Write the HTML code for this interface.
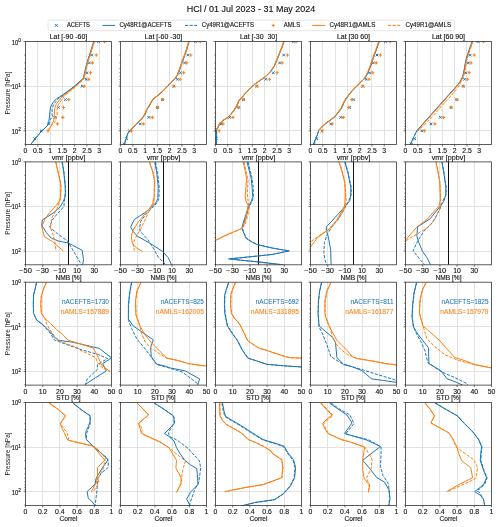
<!DOCTYPE html>
<html><head><meta charset="utf-8"><style>html,body{margin:0;padding:0;background:#fff;overflow:hidden}svg{display:block;will-change:transform}text{font-family:"Liberation Sans",sans-serif}</style></head><body>
<svg width="500" height="527" viewBox="0 0 500 527" font-family="Liberation Sans, sans-serif" fill="#111" stroke="#111" stroke-width="0.12"><defs><clipPath id="cp00"><rect x="25.5" y="41.6" width="86.0" height="102.9"/></clipPath><clipPath id="cp01"><rect x="120.5" y="41.6" width="86.0" height="102.9"/></clipPath><clipPath id="cp02"><rect x="215.5" y="41.6" width="86.0" height="102.9"/></clipPath><clipPath id="cp03"><rect x="310.5" y="41.6" width="86.0" height="102.9"/></clipPath><clipPath id="cp04"><rect x="405.5" y="41.6" width="86.0" height="102.9"/></clipPath><clipPath id="cp10"><rect x="25.5" y="161.9" width="86.0" height="102.9"/></clipPath><clipPath id="cp11"><rect x="120.5" y="161.9" width="86.0" height="102.9"/></clipPath><clipPath id="cp12"><rect x="215.5" y="161.9" width="86.0" height="102.9"/></clipPath><clipPath id="cp13"><rect x="310.5" y="161.9" width="86.0" height="102.9"/></clipPath><clipPath id="cp14"><rect x="405.5" y="161.9" width="86.0" height="102.9"/></clipPath><clipPath id="cp20"><rect x="25.5" y="282.2" width="86.0" height="102.9"/></clipPath><clipPath id="cp21"><rect x="120.5" y="282.2" width="86.0" height="102.9"/></clipPath><clipPath id="cp22"><rect x="215.5" y="282.2" width="86.0" height="102.9"/></clipPath><clipPath id="cp23"><rect x="310.5" y="282.2" width="86.0" height="102.9"/></clipPath><clipPath id="cp24"><rect x="405.5" y="282.2" width="86.0" height="102.9"/></clipPath><clipPath id="cp30"><rect x="25.5" y="402.5" width="86.0" height="102.9"/></clipPath><clipPath id="cp31"><rect x="120.5" y="402.5" width="86.0" height="102.9"/></clipPath><clipPath id="cp32"><rect x="215.5" y="402.5" width="86.0" height="102.9"/></clipPath><clipPath id="cp33"><rect x="310.5" y="402.5" width="86.0" height="102.9"/></clipPath><clipPath id="cp34"><rect x="405.5" y="402.5" width="86.0" height="102.9"/></clipPath></defs><rect x="0" y="0" width="500" height="527" fill="#fff" stroke="none"/>
<text x="251.00" y="12.00" font-size="8.59" text-anchor="middle" textLength="128.61" lengthAdjust="spacingAndGlyphs">HCl / 01 Jul 2023 - 31 May 2024</text>
<rect x="48.1" y="20.2" width="406.6" height="10.5" rx="1.6" fill="#fff" stroke="#e2e2e2" stroke-width="0.9"/>
<path d="M54.95 24.05L57.65 26.75M54.95 26.75L57.65 24.05" stroke="#1f77b4" stroke-width="0.95" fill="none"/>
<line x1="102.4" y1="25.4" x2="115" y2="25.4" stroke="#1f77b4" stroke-width="1"/>
<line x1="185" y1="25.4" x2="197" y2="25.4" stroke="#1f77b4" stroke-width="1" stroke-dasharray="3.2 1.4"/>
<path d="M271.70 25.40L274.70 25.40M273.20 23.90L273.20 26.90" stroke="#ff7f0e" stroke-width="1.0" fill="none"/>
<line x1="312.2" y1="25.4" x2="325.2" y2="25.4" stroke="#ff7f0e" stroke-width="1"/>
<line x1="388" y1="25.4" x2="401" y2="25.4" stroke="#ff7f0e" stroke-width="1" stroke-dasharray="3.2 1.4"/>
<text x="67.00" y="26.90" font-size="6.36" textLength="22.80" lengthAdjust="spacingAndGlyphs">ACEFTS</text>
<text x="119.40" y="26.90" font-size="6.36" textLength="52.16" lengthAdjust="spacingAndGlyphs">Cy48R1@ACEFTS</text>
<text x="201.80" y="26.90" font-size="6.36" textLength="52.16" lengthAdjust="spacingAndGlyphs">Cy49R1@ACEFTS</text>
<text x="283.80" y="26.90" font-size="6.36" textLength="16.43" lengthAdjust="spacingAndGlyphs">AMLS</text>
<text x="329.50" y="26.90" font-size="6.36" textLength="45.79" lengthAdjust="spacingAndGlyphs">Cy48R1@AMLS</text>
<text x="405.40" y="26.90" font-size="6.36" textLength="45.79" lengthAdjust="spacingAndGlyphs">Cy49R1@AMLS</text>
<line x1="37.50" y1="41.6" x2="37.50" y2="144.5" stroke="#e2e2e2" stroke-width="1"/><line x1="50.50" y1="41.6" x2="50.50" y2="144.5" stroke="#e2e2e2" stroke-width="1"/><line x1="62.50" y1="41.6" x2="62.50" y2="144.5" stroke="#e2e2e2" stroke-width="1"/><line x1="74.50" y1="41.6" x2="74.50" y2="144.5" stroke="#e2e2e2" stroke-width="1"/><line x1="86.50" y1="41.6" x2="86.50" y2="144.5" stroke="#e2e2e2" stroke-width="1"/><line x1="99.50" y1="41.6" x2="99.50" y2="144.5" stroke="#e2e2e2" stroke-width="1"/><line x1="25.5" y1="86.50" x2="111.5" y2="86.50" stroke="#e2e2e2" stroke-width="1"/><line x1="25.5" y1="130.50" x2="111.5" y2="130.50" stroke="#e2e2e2" stroke-width="1"/>
<g clip-path="url(#cp00)">
<path d="M97.20 40.30L99.80 42.90M97.20 42.90L99.80 40.30" stroke="#1f77b4" stroke-width="1.0" fill="none"/><path d="M90.40 53.73L93.00 56.33M90.40 56.33L93.00 53.73" stroke="#1f77b4" stroke-width="1.0" fill="none"/><path d="M88.10 61.58L90.70 64.18M88.10 64.18L90.70 61.58" stroke="#1f77b4" stroke-width="1.0" fill="none"/><path d="M85.70 71.47L88.30 74.07M85.70 74.07L88.30 71.47" stroke="#1f77b4" stroke-width="1.0" fill="none"/><path d="M84.90 77.99L87.50 80.59M84.90 80.59L87.50 77.99" stroke="#1f77b4" stroke-width="1.0" fill="none"/><path d="M80.90 84.90L83.50 87.50M80.90 87.50L83.50 84.90" stroke="#1f77b4" stroke-width="1.0" fill="none"/><path d="M64.10 98.33L66.70 100.93M64.10 100.93L66.70 98.33" stroke="#1f77b4" stroke-width="1.0" fill="none"/><path d="M57.30 106.18L59.90 108.78M57.30 108.78L59.90 106.18" stroke="#1f77b4" stroke-width="1.0" fill="none"/><path d="M53.50 116.07L56.10 118.67M53.50 118.67L56.10 116.07" stroke="#1f77b4" stroke-width="1.0" fill="none"/><path d="M47.30 122.59L49.90 125.19M47.30 125.19L49.90 122.59" stroke="#1f77b4" stroke-width="1.0" fill="none"/><path d="M39.90 129.50L42.50 132.10M39.90 132.10L42.50 129.50" stroke="#1f77b4" stroke-width="1.0" fill="none"/><path d="M33.40 137.35L36.00 139.95M33.40 139.95L36.00 137.35" stroke="#1f77b4" stroke-width="1.0" fill="none"/>
<path d="M93.80 41.50 L89.30 55.50 L86.60 64.00 L84.20 74.30 L83.30 78.30 L79.00 82.10 L75.00 85.60 L71.00 88.80 L67.00 91.80 L63.00 94.60 L59.50 97.00 L56.70 98.60 L52.90 102.60 L50.60 107.10 L49.90 111.70 L49.50 117.00 L48.70 121.60 L47.60 125.40 L43.80 129.20 L40.00 133.00 L31.80 143.10 L30.80 144.50" stroke="#1f77b4" stroke-width="1.0" fill="none" stroke-linejoin="round"/>
<path d="M94.00 41.50 L89.50 55.50 L86.80 64.00 L84.40 74.30 L83.50 78.40 L79.20 82.30 L75.20 85.90 L71.20 89.10 L67.20 92.10 L63.20 95.00 L60.00 97.50 L58.20 98.80 L54.40 103.40 L52.10 107.90 L52.10 114.70 L52.50 116.50 L50.00 120.00 L48.70 123.90 L47.60 125.40 L43.80 129.20 L40.00 133.00 L31.80 143.10 L30.80 144.50" stroke="#1f77b4" stroke-width="1.0" fill="none" stroke-linejoin="round" stroke-dasharray="3.2 1.4"/>
<path d="M103.05 41.60L106.35 41.60M104.70 39.95L104.70 43.25" stroke="#ff7f0e" stroke-width="1.05" fill="none"/><path d="M94.65 55.03L97.95 55.03M96.30 53.38L96.30 56.68" stroke="#ff7f0e" stroke-width="1.05" fill="none"/><path d="M90.75 62.88L94.05 62.88M92.40 61.23L92.40 64.53" stroke="#ff7f0e" stroke-width="1.05" fill="none"/><path d="M88.85 72.77L92.15 72.77M90.50 71.12L90.50 74.42" stroke="#ff7f0e" stroke-width="1.05" fill="none"/><path d="M87.15 79.29L90.45 79.29M88.80 77.64L88.80 80.94" stroke="#ff7f0e" stroke-width="1.05" fill="none"/><path d="M82.55 86.20L85.85 86.20M84.20 84.55L84.20 87.85" stroke="#ff7f0e" stroke-width="1.05" fill="none"/><path d="M67.05 99.63L70.35 99.63M68.70 97.98L68.70 101.28" stroke="#ff7f0e" stroke-width="1.05" fill="none"/><path d="M61.85 107.48L65.15 107.48M63.50 105.83L63.50 109.13" stroke="#ff7f0e" stroke-width="1.05" fill="none"/><path d="M61.15 117.37L64.45 117.37M62.80 115.72L62.80 119.02" stroke="#ff7f0e" stroke-width="1.05" fill="none"/><path d="M55.85 123.89L59.15 123.89M57.50 122.24L57.50 125.54" stroke="#ff7f0e" stroke-width="1.05" fill="none"/><path d="M46.35 130.80L49.65 130.80M48.00 129.15L48.00 132.45" stroke="#ff7f0e" stroke-width="1.05" fill="none"/>
<path d="M94.30 41.50 L89.80 55.50 L87.10 64.00 L84.70 74.30 L83.80 78.60 L79.50 82.60 L75.50 86.20 L71.50 89.50 L67.50 92.60 L63.70 95.50 L61.50 97.30 L59.70 99.60 L56.30 104.10 L54.80 107.90 L54.40 114.00 L54.00 120.00 L51.40 125.40 L48.00 130.50" stroke="#ff7f0e" stroke-width="1.0" fill="none" stroke-linejoin="round"/>
<path d="M94.50 41.50 L90.00 55.50 L87.30 64.00 L84.90 74.30 L84.00 78.80 L79.80 82.90 L75.80 86.50 L71.80 89.90 L67.80 93.00 L64.50 95.60 L61.30 100.30 L58.20 104.90 L57.10 110.20 L57.10 114.70 L56.30 118.50 L54.80 122.30 L51.40 125.40 L48.00 130.50" stroke="#ff7f0e" stroke-width="1.0" fill="none" stroke-linejoin="round" stroke-dasharray="3.2 1.4"/>
</g>
<rect x="25.5" y="41.6" width="86.0" height="102.9" fill="none" stroke="#333" stroke-width="0.8"/>
<text x="25.50" y="153.10" font-size="6.36" text-anchor="middle" textLength="3.82" lengthAdjust="spacingAndGlyphs">0</text>
<text x="37.79" y="153.10" font-size="6.36" text-anchor="middle" textLength="9.54" lengthAdjust="spacingAndGlyphs">0.5</text>
<text x="50.07" y="153.10" font-size="6.36" text-anchor="middle" textLength="3.82" lengthAdjust="spacingAndGlyphs">1</text>
<text x="62.36" y="153.10" font-size="6.36" text-anchor="middle" textLength="9.54" lengthAdjust="spacingAndGlyphs">1.5</text>
<text x="74.64" y="153.10" font-size="6.36" text-anchor="middle" textLength="3.82" lengthAdjust="spacingAndGlyphs">2</text>
<text x="86.93" y="153.10" font-size="6.36" text-anchor="middle" textLength="9.54" lengthAdjust="spacingAndGlyphs">2.5</text>
<text x="99.21" y="153.10" font-size="6.36" text-anchor="middle" textLength="3.82" lengthAdjust="spacingAndGlyphs">3</text>
<path d="M25.50 144.5v2M37.79 144.5v2M50.07 144.5v2M62.36 144.5v2M74.64 144.5v2M86.93 144.5v2M99.21 144.5v2M25.5 41.60h-2M25.5 55.03h-1.1M25.5 62.88h-1.1M25.5 68.45h-1.1M25.5 72.77h-1.1M25.5 76.31h-1.1M25.5 79.29h-1.1M25.5 81.88h-1.1M25.5 84.16h-1.1M25.5 86.20h-2M25.5 99.63h-1.1M25.5 107.48h-1.1M25.5 113.05h-1.1M25.5 117.37h-1.1M25.5 120.91h-1.1M25.5 123.89h-1.1M25.5 126.48h-1.1M25.5 128.76h-1.1M25.5 130.80h-2M25.5 144.23h-1.1" stroke="#333" stroke-width="0.7" fill="none"/>
<text x="68.50" y="159.60" font-size="6.36" text-anchor="middle" textLength="33.43" lengthAdjust="spacingAndGlyphs">vmr [ppbv]</text>
<text x="68.50" y="39.00" font-size="6.36" text-anchor="middle" textLength="37.47" lengthAdjust="spacingAndGlyphs" xml:space="preserve">Lat [-90 -60]</text>
<text x="18.2" y="44.50" font-size="6.3" text-anchor="end" textLength="6.5" lengthAdjust="spacingAndGlyphs">10</text><text x="18.20" y="42.10" font-size="4.45" textLength="2.67" lengthAdjust="spacingAndGlyphs">0</text>
<text x="18.2" y="89.10" font-size="6.3" text-anchor="end" textLength="6.5" lengthAdjust="spacingAndGlyphs">10</text><text x="18.20" y="86.70" font-size="4.45" textLength="2.67" lengthAdjust="spacingAndGlyphs">1</text>
<text x="18.2" y="133.70" font-size="6.3" text-anchor="end" textLength="6.5" lengthAdjust="spacingAndGlyphs">10</text><text x="18.20" y="131.30" font-size="4.45" textLength="2.67" lengthAdjust="spacingAndGlyphs">2</text>
<text x="0.00" y="0.00" font-size="6.36" text-anchor="middle" textLength="43.04" lengthAdjust="spacingAndGlyphs" stroke="none" transform="translate(10.2 93.05) rotate(-90)">Pressure [hPa]</text>
<line x1="132.50" y1="41.6" x2="132.50" y2="144.5" stroke="#e2e2e2" stroke-width="1"/><line x1="145.50" y1="41.6" x2="145.50" y2="144.5" stroke="#e2e2e2" stroke-width="1"/><line x1="157.50" y1="41.6" x2="157.50" y2="144.5" stroke="#e2e2e2" stroke-width="1"/><line x1="169.50" y1="41.6" x2="169.50" y2="144.5" stroke="#e2e2e2" stroke-width="1"/><line x1="181.50" y1="41.6" x2="181.50" y2="144.5" stroke="#e2e2e2" stroke-width="1"/><line x1="194.50" y1="41.6" x2="194.50" y2="144.5" stroke="#e2e2e2" stroke-width="1"/><line x1="120.5" y1="86.50" x2="206.5" y2="86.50" stroke="#e2e2e2" stroke-width="1"/><line x1="120.5" y1="130.50" x2="206.5" y2="130.50" stroke="#e2e2e2" stroke-width="1"/>
<g clip-path="url(#cp01)">
<path d="M194.20 40.30L196.80 42.90M194.20 42.90L196.80 40.30" stroke="#1f77b4" stroke-width="1.0" fill="none"/><path d="M186.50 53.73L189.10 56.33M186.50 56.33L189.10 53.73" stroke="#1f77b4" stroke-width="1.0" fill="none"/><path d="M183.20 61.58L185.80 64.18M183.20 64.18L185.80 61.58" stroke="#1f77b4" stroke-width="1.0" fill="none"/><path d="M179.20 71.47L181.80 74.07M179.20 74.07L181.80 71.47" stroke="#1f77b4" stroke-width="1.0" fill="none"/><path d="M176.10 77.99L178.70 80.59M176.10 80.59L178.70 77.99" stroke="#1f77b4" stroke-width="1.0" fill="none"/><path d="M172.50 84.90L175.10 87.50M172.50 87.50L175.10 84.90" stroke="#1f77b4" stroke-width="1.0" fill="none"/><path d="M161.30 98.33L163.90 100.93M161.30 100.93L163.90 98.33" stroke="#1f77b4" stroke-width="1.0" fill="none"/><path d="M156.30 106.18L158.90 108.78M156.30 108.78L158.90 106.18" stroke="#1f77b4" stroke-width="1.0" fill="none"/><path d="M147.60 116.07L150.20 118.67M147.60 118.67L150.20 116.07" stroke="#1f77b4" stroke-width="1.0" fill="none"/><path d="M138.90 122.59L141.50 125.19M138.90 125.19L141.50 122.59" stroke="#1f77b4" stroke-width="1.0" fill="none"/><path d="M128.20 129.50L130.80 132.10M128.20 132.10L130.80 129.50" stroke="#1f77b4" stroke-width="1.0" fill="none"/><path d="M125.30 137.35L127.90 139.95M125.30 139.95L127.90 137.35" stroke="#1f77b4" stroke-width="1.0" fill="none"/><path d="M122.80 142.93L125.40 145.53M122.80 145.53L125.40 142.93" stroke="#1f77b4" stroke-width="1.0" fill="none"/>
<path d="M189.10 41.50 L186.70 49.90 L184.20 56.80 L181.70 63.70 L179.70 69.60 L177.80 74.60 L175.30 78.50 L171.40 82.40 L167.80 86.20 L163.00 91.20 L157.60 95.80 L153.30 99.20 L149.90 104.80 L147.10 109.50 L144.80 114.90 L142.10 118.50 L138.50 122.10 L134.00 126.60 L130.00 130.70 L127.70 133.80 L126.40 138.30 L124.60 143.70 L124.30 145.00" stroke="#1f77b4" stroke-width="1.0" fill="none" stroke-linejoin="round"/>
<path d="M188.90 41.50 L186.50 49.90 L184.00 56.80 L181.50 63.70 L179.50 69.60 L177.60 74.60 L175.10 78.50 L171.20 82.40 L167.60 86.20 L162.80 91.20 L157.40 95.80 L153.10 99.20 L149.70 104.80 L146.90 109.50 L144.60 114.90 L141.90 118.50 L138.30 122.10 L133.80 126.60 L129.80 130.70 L127.50 133.80 L126.20 138.30 L124.40 143.70 L124.10 145.00" stroke="#1f77b4" stroke-width="1.0" fill="none" stroke-linejoin="round" stroke-dasharray="3.2 1.4"/>
<path d="M198.55 41.60L201.85 41.60M200.20 39.95L200.20 43.25" stroke="#ff7f0e" stroke-width="1.05" fill="none"/><path d="M189.15 55.03L192.45 55.03M190.80 53.38L190.80 56.68" stroke="#ff7f0e" stroke-width="1.05" fill="none"/><path d="M185.05 62.88L188.35 62.88M186.70 61.23L186.70 64.53" stroke="#ff7f0e" stroke-width="1.05" fill="none"/><path d="M182.05 72.77L185.35 72.77M183.70 71.12L183.70 74.42" stroke="#ff7f0e" stroke-width="1.05" fill="none"/><path d="M178.45 79.29L181.75 79.29M180.10 77.64L180.10 80.94" stroke="#ff7f0e" stroke-width="1.05" fill="none"/><path d="M172.15 86.20L175.45 86.20M173.80 84.55L173.80 87.85" stroke="#ff7f0e" stroke-width="1.05" fill="none"/><path d="M160.95 99.63L164.25 99.63M162.60 97.98L162.60 101.28" stroke="#ff7f0e" stroke-width="1.05" fill="none"/><path d="M155.85 107.48L159.15 107.48M157.50 105.83L157.50 109.13" stroke="#ff7f0e" stroke-width="1.05" fill="none"/><path d="M150.75 117.37L154.05 117.37M152.40 115.72L152.40 119.02" stroke="#ff7f0e" stroke-width="1.05" fill="none"/><path d="M141.65 123.89L144.95 123.89M143.30 122.24L143.30 125.54" stroke="#ff7f0e" stroke-width="1.05" fill="none"/><path d="M129.85 130.80L133.15 130.80M131.50 129.15L131.50 132.45" stroke="#ff7f0e" stroke-width="1.05" fill="none"/>
<path d="M188.60 41.50 L186.20 49.90 L183.70 56.80 L181.20 63.70 L179.20 69.60 L177.30 74.60 L174.80 78.50 L170.90 82.40 L167.30 86.20 L162.50 91.20 L157.10 95.80 L152.80 99.20 L149.40 104.80 L146.60 109.50 L144.30 114.90 L141.60 118.50 L138.00 122.10 L133.50 126.60 L129.50 130.70" stroke="#ff7f0e" stroke-width="1.0" fill="none" stroke-linejoin="round"/>
<path d="M188.90 41.50 L186.50 49.90 L184.00 56.80 L181.50 63.70 L179.50 69.60 L177.60 74.60 L175.10 78.50 L171.20 82.40 L167.60 86.20 L162.80 91.20 L157.40 95.80 L153.10 99.20 L149.70 104.80 L146.90 109.50 L144.60 114.90 L141.90 118.50 L138.30 122.10 L133.80 126.60 L129.80 130.70" stroke="#ff7f0e" stroke-width="1.0" fill="none" stroke-linejoin="round" stroke-dasharray="3.2 1.4"/>
</g>
<rect x="120.5" y="41.6" width="86.0" height="102.9" fill="none" stroke="#333" stroke-width="0.8"/>
<text x="120.50" y="153.10" font-size="6.36" text-anchor="middle" textLength="3.82" lengthAdjust="spacingAndGlyphs">0</text>
<text x="132.79" y="153.10" font-size="6.36" text-anchor="middle" textLength="9.54" lengthAdjust="spacingAndGlyphs">0.5</text>
<text x="145.07" y="153.10" font-size="6.36" text-anchor="middle" textLength="3.82" lengthAdjust="spacingAndGlyphs">1</text>
<text x="157.36" y="153.10" font-size="6.36" text-anchor="middle" textLength="9.54" lengthAdjust="spacingAndGlyphs">1.5</text>
<text x="169.64" y="153.10" font-size="6.36" text-anchor="middle" textLength="3.82" lengthAdjust="spacingAndGlyphs">2</text>
<text x="181.93" y="153.10" font-size="6.36" text-anchor="middle" textLength="9.54" lengthAdjust="spacingAndGlyphs">2.5</text>
<text x="194.21" y="153.10" font-size="6.36" text-anchor="middle" textLength="3.82" lengthAdjust="spacingAndGlyphs">3</text>
<path d="M120.50 144.5v2M132.79 144.5v2M145.07 144.5v2M157.36 144.5v2M169.64 144.5v2M181.93 144.5v2M194.21 144.5v2M120.5 41.60h-2M120.5 55.03h-1.1M120.5 62.88h-1.1M120.5 68.45h-1.1M120.5 72.77h-1.1M120.5 76.31h-1.1M120.5 79.29h-1.1M120.5 81.88h-1.1M120.5 84.16h-1.1M120.5 86.20h-2M120.5 99.63h-1.1M120.5 107.48h-1.1M120.5 113.05h-1.1M120.5 117.37h-1.1M120.5 120.91h-1.1M120.5 123.89h-1.1M120.5 126.48h-1.1M120.5 128.76h-1.1M120.5 130.80h-2M120.5 144.23h-1.1" stroke="#333" stroke-width="0.7" fill="none"/>
<text x="163.50" y="159.60" font-size="6.36" text-anchor="middle" textLength="33.43" lengthAdjust="spacingAndGlyphs">vmr [ppbv]</text>
<text x="163.50" y="39.00" font-size="6.36" text-anchor="middle" textLength="37.47" lengthAdjust="spacingAndGlyphs" xml:space="preserve">Lat [-60 -30]</text>
<line x1="227.50" y1="41.6" x2="227.50" y2="144.5" stroke="#e2e2e2" stroke-width="1"/><line x1="240.50" y1="41.6" x2="240.50" y2="144.5" stroke="#e2e2e2" stroke-width="1"/><line x1="252.50" y1="41.6" x2="252.50" y2="144.5" stroke="#e2e2e2" stroke-width="1"/><line x1="264.50" y1="41.6" x2="264.50" y2="144.5" stroke="#e2e2e2" stroke-width="1"/><line x1="276.50" y1="41.6" x2="276.50" y2="144.5" stroke="#e2e2e2" stroke-width="1"/><line x1="289.50" y1="41.6" x2="289.50" y2="144.5" stroke="#e2e2e2" stroke-width="1"/><line x1="215.5" y1="86.50" x2="301.5" y2="86.50" stroke="#e2e2e2" stroke-width="1"/><line x1="215.5" y1="130.50" x2="301.5" y2="130.50" stroke="#e2e2e2" stroke-width="1"/>
<g clip-path="url(#cp02)">
<path d="M291.90 40.30L294.50 42.90M291.90 42.90L294.50 40.30" stroke="#1f77b4" stroke-width="1.0" fill="none"/><path d="M282.40 53.73L285.00 56.33M282.40 56.33L285.00 53.73" stroke="#1f77b4" stroke-width="1.0" fill="none"/><path d="M278.30 61.58L280.90 64.18M278.30 64.18L280.90 61.58" stroke="#1f77b4" stroke-width="1.0" fill="none"/><path d="M272.00 71.47L274.60 74.07M272.00 74.07L274.60 71.47" stroke="#1f77b4" stroke-width="1.0" fill="none"/><path d="M264.50 77.99L267.10 80.59M264.50 80.59L267.10 77.99" stroke="#1f77b4" stroke-width="1.0" fill="none"/><path d="M255.40 84.90L258.00 87.50M255.40 87.50L258.00 84.90" stroke="#1f77b4" stroke-width="1.0" fill="none"/><path d="M242.10 98.33L244.70 100.93M242.10 100.93L244.70 98.33" stroke="#1f77b4" stroke-width="1.0" fill="none"/><path d="M237.50 106.18L240.10 108.78M237.50 108.78L240.10 106.18" stroke="#1f77b4" stroke-width="1.0" fill="none"/><path d="M228.30 116.07L230.90 118.67M228.30 118.67L230.90 116.07" stroke="#1f77b4" stroke-width="1.0" fill="none"/><path d="M219.80 122.59L222.40 125.19M219.80 125.19L222.40 122.59" stroke="#1f77b4" stroke-width="1.0" fill="none"/><path d="M214.70 129.50L217.30 132.10M214.70 132.10L217.30 129.50" stroke="#1f77b4" stroke-width="1.0" fill="none"/><path d="M215.00 137.35L217.60 139.95M215.00 139.95L217.60 137.35" stroke="#1f77b4" stroke-width="1.0" fill="none"/>
<path d="M284.10 41.50 L281.80 48.00 L279.50 53.70 L277.30 59.30 L274.40 66.20 L270.40 71.90 L265.90 76.40 L260.20 80.40 L254.50 84.40 L250.00 88.90 L245.40 93.50 L241.80 97.80 L239.00 100.70 L237.10 105.40 L234.30 110.20 L230.50 114.90 L227.60 117.70 L222.90 120.60 L220.00 123.40 L218.10 127.20 L216.20 130.50 L216.60 133.00 L216.70 138.00 L216.40 145.00" stroke="#1f77b4" stroke-width="1.0" fill="none" stroke-linejoin="round"/>
<path d="M283.90 41.50 L281.60 48.00 L279.30 53.70 L277.10 59.30 L274.20 66.20 L270.20 71.90 L265.70 76.40 L260.00 80.40 L254.30 84.40 L249.80 88.90 L245.20 93.50 L241.60 97.80 L238.80 100.70 L236.90 105.40 L234.10 110.20 L230.30 114.90 L227.40 117.70 L222.70 120.60 L219.80 123.40 L217.90 127.20 L216.00 130.50 L216.40 133.00 L216.50 138.00 L216.20 145.00" stroke="#1f77b4" stroke-width="1.0" fill="none" stroke-linejoin="round" stroke-dasharray="3.2 1.4"/>
<path d="M294.35 41.60L297.65 41.60M296.00 39.95L296.00 43.25" stroke="#ff7f0e" stroke-width="1.05" fill="none"/><path d="M285.75 55.03L289.05 55.03M287.40 53.38L287.40 56.68" stroke="#ff7f0e" stroke-width="1.05" fill="none"/><path d="M280.35 62.88L283.65 62.88M282.00 61.23L282.00 64.53" stroke="#ff7f0e" stroke-width="1.05" fill="none"/><path d="M275.45 72.77L278.75 72.77M277.10 71.12L277.10 74.42" stroke="#ff7f0e" stroke-width="1.05" fill="none"/><path d="M267.85 79.29L271.15 79.29M269.50 77.64L269.50 80.94" stroke="#ff7f0e" stroke-width="1.05" fill="none"/><path d="M255.25 86.20L258.55 86.20M256.90 84.55L256.90 87.85" stroke="#ff7f0e" stroke-width="1.05" fill="none"/><path d="M241.95 99.63L245.25 99.63M243.60 97.98L243.60 101.28" stroke="#ff7f0e" stroke-width="1.05" fill="none"/><path d="M236.65 107.48L239.95 107.48M238.30 105.83L238.30 109.13" stroke="#ff7f0e" stroke-width="1.05" fill="none"/><path d="M231.25 117.37L234.55 117.37M232.90 115.72L232.90 119.02" stroke="#ff7f0e" stroke-width="1.05" fill="none"/><path d="M221.35 123.89L224.65 123.89M223.00 122.24L223.00 125.54" stroke="#ff7f0e" stroke-width="1.05" fill="none"/><path d="M217.55 130.80L220.85 130.80M219.20 129.15L219.20 132.45" stroke="#ff7f0e" stroke-width="1.05" fill="none"/>
<path d="M283.70 41.50 L281.40 48.00 L279.10 53.70 L276.90 59.30 L274.00 66.20 L270.00 71.90 L265.50 76.40 L259.80 80.40 L254.10 84.40 L249.60 88.90 L245.00 93.50 L241.40 97.80 L238.60 100.70 L236.70 105.40 L233.90 110.20 L230.10 114.90 L227.20 117.70 L222.50 120.60 L219.60 123.40 L217.70 127.20 L215.80 130.50" stroke="#ff7f0e" stroke-width="1.0" fill="none" stroke-linejoin="round"/>
<path d="M283.90 41.50 L281.60 48.00 L279.30 53.70 L277.10 59.30 L274.20 66.20 L270.20 71.90 L265.70 76.40 L260.00 80.40 L254.30 84.40 L249.80 88.90 L245.20 93.50 L241.60 97.80 L238.80 100.70 L236.90 105.40 L234.10 110.20 L230.30 114.90 L227.40 117.70 L222.70 120.60 L219.80 123.40 L217.90 127.20 L216.00 130.50" stroke="#ff7f0e" stroke-width="1.0" fill="none" stroke-linejoin="round" stroke-dasharray="3.2 1.4"/>
</g>
<rect x="215.5" y="41.6" width="86.0" height="102.9" fill="none" stroke="#333" stroke-width="0.8"/>
<text x="215.50" y="153.10" font-size="6.36" text-anchor="middle" textLength="3.82" lengthAdjust="spacingAndGlyphs">0</text>
<text x="227.79" y="153.10" font-size="6.36" text-anchor="middle" textLength="9.54" lengthAdjust="spacingAndGlyphs">0.5</text>
<text x="240.07" y="153.10" font-size="6.36" text-anchor="middle" textLength="3.82" lengthAdjust="spacingAndGlyphs">1</text>
<text x="252.36" y="153.10" font-size="6.36" text-anchor="middle" textLength="9.54" lengthAdjust="spacingAndGlyphs">1.5</text>
<text x="264.64" y="153.10" font-size="6.36" text-anchor="middle" textLength="3.82" lengthAdjust="spacingAndGlyphs">2</text>
<text x="276.93" y="153.10" font-size="6.36" text-anchor="middle" textLength="9.54" lengthAdjust="spacingAndGlyphs">2.5</text>
<text x="289.21" y="153.10" font-size="6.36" text-anchor="middle" textLength="3.82" lengthAdjust="spacingAndGlyphs">3</text>
<path d="M215.50 144.5v2M227.79 144.5v2M240.07 144.5v2M252.36 144.5v2M264.64 144.5v2M276.93 144.5v2M289.21 144.5v2M215.5 41.60h-2M215.5 55.03h-1.1M215.5 62.88h-1.1M215.5 68.45h-1.1M215.5 72.77h-1.1M215.5 76.31h-1.1M215.5 79.29h-1.1M215.5 81.88h-1.1M215.5 84.16h-1.1M215.5 86.20h-2M215.5 99.63h-1.1M215.5 107.48h-1.1M215.5 113.05h-1.1M215.5 117.37h-1.1M215.5 120.91h-1.1M215.5 123.89h-1.1M215.5 126.48h-1.1M215.5 128.76h-1.1M215.5 130.80h-2M215.5 144.23h-1.1" stroke="#333" stroke-width="0.7" fill="none"/>
<text x="258.50" y="159.60" font-size="6.36" text-anchor="middle" textLength="33.43" lengthAdjust="spacingAndGlyphs">vmr [ppbv]</text>
<text x="258.50" y="39.00" font-size="6.36" text-anchor="middle" textLength="37.21" lengthAdjust="spacingAndGlyphs" xml:space="preserve">Lat [-30  30]</text>
<line x1="322.50" y1="41.6" x2="322.50" y2="144.5" stroke="#e2e2e2" stroke-width="1"/><line x1="335.50" y1="41.6" x2="335.50" y2="144.5" stroke="#e2e2e2" stroke-width="1"/><line x1="347.50" y1="41.6" x2="347.50" y2="144.5" stroke="#e2e2e2" stroke-width="1"/><line x1="359.50" y1="41.6" x2="359.50" y2="144.5" stroke="#e2e2e2" stroke-width="1"/><line x1="371.50" y1="41.6" x2="371.50" y2="144.5" stroke="#e2e2e2" stroke-width="1"/><line x1="384.50" y1="41.6" x2="384.50" y2="144.5" stroke="#e2e2e2" stroke-width="1"/><line x1="310.5" y1="86.50" x2="396.5" y2="86.50" stroke="#e2e2e2" stroke-width="1"/><line x1="310.5" y1="130.50" x2="396.5" y2="130.50" stroke="#e2e2e2" stroke-width="1"/>
<g clip-path="url(#cp03)">
<path d="M384.20 40.30L386.80 42.90M384.20 42.90L386.80 40.30" stroke="#1f77b4" stroke-width="1.0" fill="none"/><path d="M375.70 53.73L378.30 56.33M375.70 56.33L378.30 53.73" stroke="#1f77b4" stroke-width="1.0" fill="none"/><path d="M372.00 61.58L374.60 64.18M372.00 64.18L374.60 61.58" stroke="#1f77b4" stroke-width="1.0" fill="none"/><path d="M368.50 71.47L371.10 74.07M368.50 74.07L371.10 71.47" stroke="#1f77b4" stroke-width="1.0" fill="none"/><path d="M364.90 77.99L367.50 80.59M364.90 80.59L367.50 77.99" stroke="#1f77b4" stroke-width="1.0" fill="none"/><path d="M361.50 84.90L364.10 87.50M361.50 87.50L364.10 84.90" stroke="#1f77b4" stroke-width="1.0" fill="none"/><path d="M352.50 98.33L355.10 100.93M352.50 100.93L355.10 98.33" stroke="#1f77b4" stroke-width="1.0" fill="none"/><path d="M348.40 106.18L351.00 108.78M348.40 108.78L351.00 106.18" stroke="#1f77b4" stroke-width="1.0" fill="none"/><path d="M339.50 116.07L342.10 118.67M339.50 118.67L342.10 116.07" stroke="#1f77b4" stroke-width="1.0" fill="none"/><path d="M329.60 122.59L332.20 125.19M329.60 125.19L332.20 122.59" stroke="#1f77b4" stroke-width="1.0" fill="none"/><path d="M320.70 129.50L323.30 132.10M320.70 132.10L323.30 129.50" stroke="#1f77b4" stroke-width="1.0" fill="none"/><path d="M315.50 137.35L318.10 139.95M315.50 139.95L318.10 137.35" stroke="#1f77b4" stroke-width="1.0" fill="none"/><path d="M312.90 142.93L315.50 145.53M312.90 145.53L315.50 142.93" stroke="#1f77b4" stroke-width="1.0" fill="none"/>
<path d="M379.30 41.50 L377.00 48.00 L374.70 54.20 L372.50 60.50 L370.20 67.30 L367.90 73.00 L365.10 78.10 L361.10 82.10 L356.50 86.60 L352.00 91.20 L348.60 95.50 L346.10 98.90 L344.00 102.50 L341.90 107.70 L338.80 111.90 L335.10 116.60 L330.40 120.30 L325.20 123.90 L322.10 127.10 L319.00 130.20 L317.40 134.90 L314.80 141.10 L313.70 144.30 L313.50 145.00" stroke="#1f77b4" stroke-width="1.0" fill="none" stroke-linejoin="round"/>
<path d="M379.10 41.50 L376.80 48.00 L374.50 54.20 L372.30 60.50 L370.00 67.30 L367.70 73.00 L364.90 78.10 L360.90 82.10 L356.30 86.60 L351.80 91.20 L348.40 95.50 L345.90 98.90 L343.80 102.50 L341.70 107.70 L338.60 111.90 L334.90 116.60 L330.20 120.30 L325.00 123.90 L321.90 127.10 L318.80 130.20 L317.20 134.90 L314.60 141.10 L313.50 144.30 L313.30 145.00" stroke="#1f77b4" stroke-width="1.0" fill="none" stroke-linejoin="round" stroke-dasharray="3.2 1.4"/>
<path d="M388.35 41.60L391.65 41.60M390.00 39.95L390.00 43.25" stroke="#ff7f0e" stroke-width="1.05" fill="none"/><path d="M378.75 55.03L382.05 55.03M380.40 53.38L380.40 56.68" stroke="#ff7f0e" stroke-width="1.05" fill="none"/><path d="M374.55 62.88L377.85 62.88M376.20 61.23L376.20 64.53" stroke="#ff7f0e" stroke-width="1.05" fill="none"/><path d="M371.15 72.77L374.45 72.77M372.80 71.12L372.80 74.42" stroke="#ff7f0e" stroke-width="1.05" fill="none"/><path d="M367.35 79.29L370.65 79.29M369.00 77.64L369.00 80.94" stroke="#ff7f0e" stroke-width="1.05" fill="none"/><path d="M361.15 86.20L364.45 86.20M362.80 84.55L362.80 87.85" stroke="#ff7f0e" stroke-width="1.05" fill="none"/><path d="M350.15 99.63L353.45 99.63M351.80 97.98L351.80 101.28" stroke="#ff7f0e" stroke-width="1.05" fill="none"/><path d="M347.15 107.48L350.45 107.48M348.80 105.83L348.80 109.13" stroke="#ff7f0e" stroke-width="1.05" fill="none"/><path d="M341.75 117.37L345.05 117.37M343.40 115.72L343.40 119.02" stroke="#ff7f0e" stroke-width="1.05" fill="none"/><path d="M330.45 123.89L333.75 123.89M332.10 122.24L332.10 125.54" stroke="#ff7f0e" stroke-width="1.05" fill="none"/><path d="M320.75 130.80L324.05 130.80M322.40 129.15L322.40 132.45" stroke="#ff7f0e" stroke-width="1.05" fill="none"/>
<path d="M378.70 41.50 L376.40 48.00 L374.10 54.20 L371.90 60.50 L369.60 67.30 L367.30 73.00 L364.50 78.10 L360.50 82.10 L355.90 86.60 L351.40 91.20 L348.00 95.50 L345.50 98.90 L343.40 102.50 L341.30 107.70 L338.20 111.90 L334.50 116.60 L329.80 120.30 L324.60 123.90 L321.50 127.10 L318.40 130.20" stroke="#ff7f0e" stroke-width="1.0" fill="none" stroke-linejoin="round"/>
<path d="M378.90 41.50 L376.60 48.00 L374.30 54.20 L372.10 60.50 L369.80 67.30 L367.50 73.00 L364.70 78.10 L360.70 82.10 L356.10 86.60 L351.60 91.20 L348.20 95.50 L345.70 98.90 L343.60 102.50 L341.50 107.70 L338.40 111.90 L334.70 116.60 L330.00 120.30 L324.80 123.90 L321.70 127.10 L318.60 130.20" stroke="#ff7f0e" stroke-width="1.0" fill="none" stroke-linejoin="round" stroke-dasharray="3.2 1.4"/>
</g>
<rect x="310.5" y="41.6" width="86.0" height="102.9" fill="none" stroke="#333" stroke-width="0.8"/>
<text x="310.50" y="153.10" font-size="6.36" text-anchor="middle" textLength="3.82" lengthAdjust="spacingAndGlyphs">0</text>
<text x="322.79" y="153.10" font-size="6.36" text-anchor="middle" textLength="9.54" lengthAdjust="spacingAndGlyphs">0.5</text>
<text x="335.07" y="153.10" font-size="6.36" text-anchor="middle" textLength="3.82" lengthAdjust="spacingAndGlyphs">1</text>
<text x="347.36" y="153.10" font-size="6.36" text-anchor="middle" textLength="9.54" lengthAdjust="spacingAndGlyphs">1.5</text>
<text x="359.64" y="153.10" font-size="6.36" text-anchor="middle" textLength="3.82" lengthAdjust="spacingAndGlyphs">2</text>
<text x="371.93" y="153.10" font-size="6.36" text-anchor="middle" textLength="9.54" lengthAdjust="spacingAndGlyphs">2.5</text>
<text x="384.21" y="153.10" font-size="6.36" text-anchor="middle" textLength="3.82" lengthAdjust="spacingAndGlyphs">3</text>
<path d="M310.50 144.5v2M322.79 144.5v2M335.07 144.5v2M347.36 144.5v2M359.64 144.5v2M371.93 144.5v2M384.21 144.5v2M310.5 41.60h-2M310.5 55.03h-1.1M310.5 62.88h-1.1M310.5 68.45h-1.1M310.5 72.77h-1.1M310.5 76.31h-1.1M310.5 79.29h-1.1M310.5 81.88h-1.1M310.5 84.16h-1.1M310.5 86.20h-2M310.5 99.63h-1.1M310.5 107.48h-1.1M310.5 113.05h-1.1M310.5 117.37h-1.1M310.5 120.91h-1.1M310.5 123.89h-1.1M310.5 126.48h-1.1M310.5 128.76h-1.1M310.5 130.80h-2M310.5 144.23h-1.1" stroke="#333" stroke-width="0.7" fill="none"/>
<text x="353.50" y="159.60" font-size="6.36" text-anchor="middle" textLength="33.43" lengthAdjust="spacingAndGlyphs">vmr [ppbv]</text>
<text x="353.50" y="39.00" font-size="6.36" text-anchor="middle" textLength="33.14" lengthAdjust="spacingAndGlyphs" xml:space="preserve">Lat [30 60]</text>
<line x1="417.50" y1="41.6" x2="417.50" y2="144.5" stroke="#e2e2e2" stroke-width="1"/><line x1="430.50" y1="41.6" x2="430.50" y2="144.5" stroke="#e2e2e2" stroke-width="1"/><line x1="442.50" y1="41.6" x2="442.50" y2="144.5" stroke="#e2e2e2" stroke-width="1"/><line x1="454.50" y1="41.6" x2="454.50" y2="144.5" stroke="#e2e2e2" stroke-width="1"/><line x1="466.50" y1="41.6" x2="466.50" y2="144.5" stroke="#e2e2e2" stroke-width="1"/><line x1="479.50" y1="41.6" x2="479.50" y2="144.5" stroke="#e2e2e2" stroke-width="1"/><line x1="405.5" y1="86.50" x2="491.5" y2="86.50" stroke="#e2e2e2" stroke-width="1"/><line x1="405.5" y1="130.50" x2="491.5" y2="130.50" stroke="#e2e2e2" stroke-width="1"/>
<g clip-path="url(#cp04)">
<path d="M476.80 40.30L479.40 42.90M476.80 42.90L479.40 40.30" stroke="#1f77b4" stroke-width="1.0" fill="none"/><path d="M468.90 53.73L471.50 56.33M468.90 56.33L471.50 53.73" stroke="#1f77b4" stroke-width="1.0" fill="none"/><path d="M466.90 61.58L469.50 64.18M466.90 64.18L469.50 61.58" stroke="#1f77b4" stroke-width="1.0" fill="none"/><path d="M464.50 71.47L467.10 74.07M464.50 74.07L467.10 71.47" stroke="#1f77b4" stroke-width="1.0" fill="none"/><path d="M463.30 77.99L465.90 80.59M463.30 80.59L465.90 77.99" stroke="#1f77b4" stroke-width="1.0" fill="none"/><path d="M462.00 84.90L464.60 87.50M462.00 87.50L464.60 84.90" stroke="#1f77b4" stroke-width="1.0" fill="none"/><path d="M455.50 98.33L458.10 100.93M455.50 100.93L458.10 98.33" stroke="#1f77b4" stroke-width="1.0" fill="none"/><path d="M449.80 106.18L452.40 108.78M449.80 108.78L452.40 106.18" stroke="#1f77b4" stroke-width="1.0" fill="none"/><path d="M439.00 116.07L441.60 118.67M439.00 118.67L441.60 116.07" stroke="#1f77b4" stroke-width="1.0" fill="none"/><path d="M429.70 122.59L432.30 125.19M429.70 125.19L432.30 122.59" stroke="#1f77b4" stroke-width="1.0" fill="none"/><path d="M420.60 129.50L423.20 132.10M420.60 132.10L423.20 129.50" stroke="#1f77b4" stroke-width="1.0" fill="none"/><path d="M413.40 137.35L416.00 139.95M413.40 139.95L416.00 137.35" stroke="#1f77b4" stroke-width="1.0" fill="none"/><path d="M410.00 142.93L412.60 145.53M410.00 145.53L412.60 142.93" stroke="#1f77b4" stroke-width="1.0" fill="none"/>
<path d="M472.10 41.50 L469.10 49.90 L466.70 56.80 L465.20 63.70 L464.20 69.60 L462.70 76.50 L460.20 81.40 L457.90 84.50 L416.90 130.60 L414.10 136.30 L410.70 143.70 L410.40 145.00" stroke="#1f77b4" stroke-width="1.0" fill="none" stroke-linejoin="round"/>
<path d="M472.40 41.50 L469.40 49.90 L467.00 56.80 L465.50 63.70 L464.50 69.60 L463.00 76.50 L460.50 81.40 L458.20 84.50 L417.20 130.60 L414.10 136.30 L410.70 143.70 L410.40 145.00" stroke="#1f77b4" stroke-width="1.0" fill="none" stroke-linejoin="round" stroke-dasharray="3.2 1.4"/>
<path d="M481.85 41.60L485.15 41.60M483.50 39.95L483.50 43.25" stroke="#ff7f0e" stroke-width="1.05" fill="none"/><path d="M472.55 55.03L475.85 55.03M474.20 53.38L474.20 56.68" stroke="#ff7f0e" stroke-width="1.05" fill="none"/><path d="M469.25 62.88L472.55 62.88M470.90 61.23L470.90 64.53" stroke="#ff7f0e" stroke-width="1.05" fill="none"/><path d="M467.55 72.77L470.85 72.77M469.20 71.12L469.20 74.42" stroke="#ff7f0e" stroke-width="1.05" fill="none"/><path d="M465.95 79.29L469.25 79.29M467.60 77.64L467.60 80.94" stroke="#ff7f0e" stroke-width="1.05" fill="none"/><path d="M461.65 86.20L464.95 86.20M463.30 84.55L463.30 87.85" stroke="#ff7f0e" stroke-width="1.05" fill="none"/><path d="M455.15 99.63L458.45 99.63M456.80 97.98L456.80 101.28" stroke="#ff7f0e" stroke-width="1.05" fill="none"/><path d="M449.45 107.48L452.75 107.48M451.10 105.83L451.10 109.13" stroke="#ff7f0e" stroke-width="1.05" fill="none"/><path d="M441.85 117.37L445.15 117.37M443.50 115.72L443.50 119.02" stroke="#ff7f0e" stroke-width="1.05" fill="none"/><path d="M433.15 123.89L436.45 123.89M434.80 122.24L434.80 125.54" stroke="#ff7f0e" stroke-width="1.05" fill="none"/><path d="M422.95 130.80L426.25 130.80M424.60 129.15L424.60 132.45" stroke="#ff7f0e" stroke-width="1.05" fill="none"/>
<path d="M472.70 41.50 L469.70 49.90 L467.30 56.80 L465.80 63.70 L464.80 69.60 L463.30 76.50 L460.80 81.40 L458.50 84.50 L417.50 130.60" stroke="#ff7f0e" stroke-width="1.0" fill="none" stroke-linejoin="round"/>
<path d="M473.00 41.50 L470.00 49.90 L467.60 56.80 L466.10 63.70 L465.10 69.60 L463.60 76.50 L461.20 81.40 L458.50 86.70 L450.60 96.40 L442.60 104.90 L434.60 114.00 L427.80 121.40 L419.80 129.40 L418.00 130.80" stroke="#ff7f0e" stroke-width="1.0" fill="none" stroke-linejoin="round" stroke-dasharray="3.2 1.4"/>
</g>
<rect x="405.5" y="41.6" width="86.0" height="102.9" fill="none" stroke="#333" stroke-width="0.8"/>
<text x="405.50" y="153.10" font-size="6.36" text-anchor="middle" textLength="3.82" lengthAdjust="spacingAndGlyphs">0</text>
<text x="417.79" y="153.10" font-size="6.36" text-anchor="middle" textLength="9.54" lengthAdjust="spacingAndGlyphs">0.5</text>
<text x="430.07" y="153.10" font-size="6.36" text-anchor="middle" textLength="3.82" lengthAdjust="spacingAndGlyphs">1</text>
<text x="442.36" y="153.10" font-size="6.36" text-anchor="middle" textLength="9.54" lengthAdjust="spacingAndGlyphs">1.5</text>
<text x="454.64" y="153.10" font-size="6.36" text-anchor="middle" textLength="3.82" lengthAdjust="spacingAndGlyphs">2</text>
<text x="466.93" y="153.10" font-size="6.36" text-anchor="middle" textLength="9.54" lengthAdjust="spacingAndGlyphs">2.5</text>
<text x="479.21" y="153.10" font-size="6.36" text-anchor="middle" textLength="3.82" lengthAdjust="spacingAndGlyphs">3</text>
<path d="M405.50 144.5v2M417.79 144.5v2M430.07 144.5v2M442.36 144.5v2M454.64 144.5v2M466.93 144.5v2M479.21 144.5v2M405.5 41.60h-2M405.5 55.03h-1.1M405.5 62.88h-1.1M405.5 68.45h-1.1M405.5 72.77h-1.1M405.5 76.31h-1.1M405.5 79.29h-1.1M405.5 81.88h-1.1M405.5 84.16h-1.1M405.5 86.20h-2M405.5 99.63h-1.1M405.5 107.48h-1.1M405.5 113.05h-1.1M405.5 117.37h-1.1M405.5 120.91h-1.1M405.5 123.89h-1.1M405.5 126.48h-1.1M405.5 128.76h-1.1M405.5 130.80h-2M405.5 144.23h-1.1" stroke="#333" stroke-width="0.7" fill="none"/>
<text x="448.50" y="159.60" font-size="6.36" text-anchor="middle" textLength="33.43" lengthAdjust="spacingAndGlyphs">vmr [ppbv]</text>
<text x="448.50" y="39.00" font-size="6.36" text-anchor="middle" textLength="33.14" lengthAdjust="spacingAndGlyphs" xml:space="preserve">Lat [60 90]</text>
<line x1="42.50" y1="161.9" x2="42.50" y2="264.8" stroke="#e2e2e2" stroke-width="1"/><line x1="59.50" y1="161.9" x2="59.50" y2="264.8" stroke="#e2e2e2" stroke-width="1"/><line x1="77.50" y1="161.9" x2="77.50" y2="264.8" stroke="#e2e2e2" stroke-width="1"/><line x1="94.50" y1="161.9" x2="94.50" y2="264.8" stroke="#e2e2e2" stroke-width="1"/><line x1="25.5" y1="206.50" x2="111.5" y2="206.50" stroke="#e2e2e2" stroke-width="1"/><line x1="25.5" y1="251.50" x2="111.5" y2="251.50" stroke="#e2e2e2" stroke-width="1"/>
<line x1="68.50" y1="161.9" x2="68.50" y2="264.8" stroke="#111" stroke-width="1"/>
<g clip-path="url(#cp10)">
<path d="M62.10 162.00 L63.80 172.80 L65.10 185.60 L65.30 192.50 L64.70 197.60 L63.30 201.70 L59.90 207.10 L53.90 212.50 L47.80 216.60 L42.40 219.90 L41.70 225.30 L46.50 232.70 L51.20 238.10 L57.90 240.80 L68.70 243.20 L82.20 250.30 L83.50 259.70 L82.60 265.00" stroke="#1f77b4" stroke-width="1.0" fill="none" stroke-linejoin="round"/>
<path d="M62.40 162.00 L64.10 172.80 L65.40 185.60 L65.60 192.50 L65.10 197.60 L64.30 201.00 L64.00 206.50 L57.20 213.90 L51.80 220.60 L49.80 227.30 L57.90 234.10 L67.30 240.80 L71.40 247.60 L75.40 254.30 L80.80 263.70 L81.30 265.00" stroke="#1f77b4" stroke-width="1.0" fill="none" stroke-linejoin="round" stroke-dasharray="3.2 1.4"/>
<path d="M55.70 162.00 L58.20 172.80 L60.40 182.20 L60.80 187.40 L60.40 197.60 L59.70 200.40 L56.60 205.10 L49.80 212.50 L45.10 218.60 L41.70 226.70 L44.40 236.80 L52.50 241.50 L63.30 250.90" stroke="#ff7f0e" stroke-width="1.0" fill="none" stroke-linejoin="round"/>
<path d="M55.90 162.00 L58.40 172.80 L60.60 182.20 L61.00 187.40 L60.60 197.60 L59.90 200.40 L57.20 208.50 L51.80 217.90 L50.50 227.30 L53.20 235.40 L55.20 243.50 L55.90 251.00" stroke="#ff7f0e" stroke-width="1.0" fill="none" stroke-linejoin="round" stroke-dasharray="3.2 1.4"/>
</g>
<rect x="25.5" y="161.9" width="86.0" height="102.9" fill="none" stroke="#333" stroke-width="0.8"/>
<text x="25.50" y="273.40" font-size="6.36" text-anchor="middle" textLength="12.66" lengthAdjust="spacingAndGlyphs">−50</text>
<text x="42.70" y="273.40" font-size="6.36" text-anchor="middle" textLength="12.66" lengthAdjust="spacingAndGlyphs">−30</text>
<text x="59.90" y="273.40" font-size="6.36" text-anchor="middle" textLength="12.66" lengthAdjust="spacingAndGlyphs">−10</text>
<text x="77.10" y="273.40" font-size="6.36" text-anchor="middle" textLength="7.63" lengthAdjust="spacingAndGlyphs">10</text>
<text x="94.30" y="273.40" font-size="6.36" text-anchor="middle" textLength="7.63" lengthAdjust="spacingAndGlyphs">30</text>
<path d="M25.50 264.8v2M42.70 264.8v2M59.90 264.8v2M77.10 264.8v2M94.30 264.8v2M25.5 161.90h-2M25.5 175.33h-1.1M25.5 183.18h-1.1M25.5 188.75h-1.1M25.5 193.07h-1.1M25.5 196.61h-1.1M25.5 199.59h-1.1M25.5 202.18h-1.1M25.5 204.46h-1.1M25.5 206.50h-2M25.5 219.93h-1.1M25.5 227.78h-1.1M25.5 233.35h-1.1M25.5 237.67h-1.1M25.5 241.21h-1.1M25.5 244.19h-1.1M25.5 246.78h-1.1M25.5 249.06h-1.1M25.5 251.10h-2M25.5 264.53h-1.1" stroke="#333" stroke-width="0.7" fill="none"/>
<text x="68.50" y="279.80" font-size="6.36" text-anchor="middle" textLength="26.07" lengthAdjust="spacingAndGlyphs">NMB [%]</text>
<text x="18.2" y="164.80" font-size="6.3" text-anchor="end" textLength="6.5" lengthAdjust="spacingAndGlyphs">10</text><text x="18.20" y="162.40" font-size="4.45" textLength="2.67" lengthAdjust="spacingAndGlyphs">0</text>
<text x="18.2" y="209.40" font-size="6.3" text-anchor="end" textLength="6.5" lengthAdjust="spacingAndGlyphs">10</text><text x="18.20" y="207.00" font-size="4.45" textLength="2.67" lengthAdjust="spacingAndGlyphs">1</text>
<text x="18.2" y="254.00" font-size="6.3" text-anchor="end" textLength="6.5" lengthAdjust="spacingAndGlyphs">10</text><text x="18.20" y="251.60" font-size="4.45" textLength="2.67" lengthAdjust="spacingAndGlyphs">2</text>
<text x="0.00" y="0.00" font-size="6.36" text-anchor="middle" textLength="43.04" lengthAdjust="spacingAndGlyphs" stroke="none" transform="translate(10.2 213.35) rotate(-90)">Pressure [hPa]</text>
<line x1="137.50" y1="161.9" x2="137.50" y2="264.8" stroke="#e2e2e2" stroke-width="1"/><line x1="154.50" y1="161.9" x2="154.50" y2="264.8" stroke="#e2e2e2" stroke-width="1"/><line x1="172.50" y1="161.9" x2="172.50" y2="264.8" stroke="#e2e2e2" stroke-width="1"/><line x1="189.50" y1="161.9" x2="189.50" y2="264.8" stroke="#e2e2e2" stroke-width="1"/><line x1="120.5" y1="206.50" x2="206.5" y2="206.50" stroke="#e2e2e2" stroke-width="1"/><line x1="120.5" y1="251.50" x2="206.5" y2="251.50" stroke="#e2e2e2" stroke-width="1"/>
<line x1="163.50" y1="161.9" x2="163.50" y2="264.8" stroke="#111" stroke-width="1"/>
<g clip-path="url(#cp11)">
<path d="M154.80 162.00 L156.80 172.90 L158.20 186.90 L157.80 198.80 L155.50 203.20 L153.80 205.00 L145.00 212.50 L134.40 219.40 L130.60 226.90 L133.10 231.30 L137.50 236.30 L148.80 242.60 L162.60 251.40 L168.20 257.60 L171.40 264.50 L171.60 265.00" stroke="#1f77b4" stroke-width="1.0" fill="none" stroke-linejoin="round"/>
<path d="M155.50 162.00 L157.60 172.90 L159.20 186.90 L158.90 198.80 L158.20 200.60 L155.10 205.00 L146.30 213.80 L140.70 221.30 L139.40 229.40 L141.90 233.20 L148.20 240.10 L153.80 248.90 L158.20 257.00 L163.80 262.70 L166.40 265.00" stroke="#1f77b4" stroke-width="1.0" fill="none" stroke-linejoin="round" stroke-dasharray="3.2 1.4"/>
<path d="M149.30 162.00 L152.50 171.00 L154.50 180.90 L154.10 196.80 L152.50 203.80 L150.70 206.90 L145.00 213.80 L138.80 221.30 L133.10 230.10 L131.30 236.30 L132.50 243.90 L136.90 248.20 L142.50 251.40" stroke="#ff7f0e" stroke-width="1.0" fill="none" stroke-linejoin="round"/>
<path d="M149.50 162.00 L152.70 171.00 L154.70 180.90 L154.30 196.80 L153.60 203.80 L149.40 210.00 L145.00 220.00 L140.00 230.10 L135.70 237.60 L133.10 243.20 L134.40 250.80" stroke="#ff7f0e" stroke-width="1.0" fill="none" stroke-linejoin="round" stroke-dasharray="3.2 1.4"/>
</g>
<rect x="120.5" y="161.9" width="86.0" height="102.9" fill="none" stroke="#333" stroke-width="0.8"/>
<text x="120.50" y="273.40" font-size="6.36" text-anchor="middle" textLength="12.66" lengthAdjust="spacingAndGlyphs">−50</text>
<text x="137.70" y="273.40" font-size="6.36" text-anchor="middle" textLength="12.66" lengthAdjust="spacingAndGlyphs">−30</text>
<text x="154.90" y="273.40" font-size="6.36" text-anchor="middle" textLength="12.66" lengthAdjust="spacingAndGlyphs">−10</text>
<text x="172.10" y="273.40" font-size="6.36" text-anchor="middle" textLength="7.63" lengthAdjust="spacingAndGlyphs">10</text>
<text x="189.30" y="273.40" font-size="6.36" text-anchor="middle" textLength="7.63" lengthAdjust="spacingAndGlyphs">30</text>
<path d="M120.50 264.8v2M137.70 264.8v2M154.90 264.8v2M172.10 264.8v2M189.30 264.8v2M120.5 161.90h-2M120.5 175.33h-1.1M120.5 183.18h-1.1M120.5 188.75h-1.1M120.5 193.07h-1.1M120.5 196.61h-1.1M120.5 199.59h-1.1M120.5 202.18h-1.1M120.5 204.46h-1.1M120.5 206.50h-2M120.5 219.93h-1.1M120.5 227.78h-1.1M120.5 233.35h-1.1M120.5 237.67h-1.1M120.5 241.21h-1.1M120.5 244.19h-1.1M120.5 246.78h-1.1M120.5 249.06h-1.1M120.5 251.10h-2M120.5 264.53h-1.1" stroke="#333" stroke-width="0.7" fill="none"/>
<text x="163.50" y="279.80" font-size="6.36" text-anchor="middle" textLength="26.07" lengthAdjust="spacingAndGlyphs">NMB [%]</text>
<line x1="232.50" y1="161.9" x2="232.50" y2="264.8" stroke="#e2e2e2" stroke-width="1"/><line x1="249.50" y1="161.9" x2="249.50" y2="264.8" stroke="#e2e2e2" stroke-width="1"/><line x1="267.50" y1="161.9" x2="267.50" y2="264.8" stroke="#e2e2e2" stroke-width="1"/><line x1="284.50" y1="161.9" x2="284.50" y2="264.8" stroke="#e2e2e2" stroke-width="1"/><line x1="215.5" y1="206.50" x2="301.5" y2="206.50" stroke="#e2e2e2" stroke-width="1"/><line x1="215.5" y1="251.50" x2="301.5" y2="251.50" stroke="#e2e2e2" stroke-width="1"/>
<line x1="258.50" y1="161.9" x2="258.50" y2="264.8" stroke="#111" stroke-width="1"/>
<g clip-path="url(#cp12)">
<path d="M247.00 162.00 L249.30 170.90 L251.10 177.80 L252.10 187.30 L252.80 196.90 L251.40 201.00 L248.70 206.40 L245.90 214.60 L243.20 222.80 L241.90 228.30 L243.90 233.40 L246.00 238.30 L251.60 241.80 L257.20 244.60 L272.60 248.10 L289.40 250.90 L272.60 254.40 L253.00 256.50 L228.50 258.90 L239.00 260.00 L260.00 262.10 L283.80 264.90" stroke="#1f77b4" stroke-width="1.0" fill="none" stroke-linejoin="round"/>
<path d="M248.00 162.00 L250.20 170.90 L252.10 177.80 L253.20 187.30 L253.40 196.90 L252.20 201.00 L249.50 206.40 L246.80 214.60 L244.00 222.80 L242.50 228.30 L244.30 233.40 L246.50 238.30 L252.00 241.80 L257.50 244.60 L272.60 248.10 L288.50 250.90 L272.60 254.40 L253.00 256.50 L230.60 258.90 L239.00 260.00 L260.00 262.10 L283.00 264.90" stroke="#1f77b4" stroke-width="1.0" fill="none" stroke-linejoin="round" stroke-dasharray="3.2 1.4"/>
<path d="M243.20 162.00 L245.20 170.90 L246.60 179.10 L245.90 187.30 L245.20 195.50 L245.90 201.00 L248.00 205.10 L246.60 214.60 L244.60 222.80 L241.90 228.50 L225.00 235.50 L215.00 240.60 L200.00 247.00" stroke="#ff7f0e" stroke-width="1.0" fill="none" stroke-linejoin="round"/>
<path d="M243.90 162.00 L246.00 171.00 L248.00 180.50 L247.30 194.20 L248.70 205.10 L248.00 214.60 L245.20 224.20 L242.20 228.30 L225.00 235.80 L215.00 240.90 L200.00 247.00" stroke="#ff7f0e" stroke-width="1.0" fill="none" stroke-linejoin="round" stroke-dasharray="3.2 1.4"/>
</g>
<rect x="215.5" y="161.9" width="86.0" height="102.9" fill="none" stroke="#333" stroke-width="0.8"/>
<text x="215.50" y="273.40" font-size="6.36" text-anchor="middle" textLength="12.66" lengthAdjust="spacingAndGlyphs">−50</text>
<text x="232.70" y="273.40" font-size="6.36" text-anchor="middle" textLength="12.66" lengthAdjust="spacingAndGlyphs">−30</text>
<text x="249.90" y="273.40" font-size="6.36" text-anchor="middle" textLength="12.66" lengthAdjust="spacingAndGlyphs">−10</text>
<text x="267.10" y="273.40" font-size="6.36" text-anchor="middle" textLength="7.63" lengthAdjust="spacingAndGlyphs">10</text>
<text x="284.30" y="273.40" font-size="6.36" text-anchor="middle" textLength="7.63" lengthAdjust="spacingAndGlyphs">30</text>
<path d="M215.50 264.8v2M232.70 264.8v2M249.90 264.8v2M267.10 264.8v2M284.30 264.8v2M215.5 161.90h-2M215.5 175.33h-1.1M215.5 183.18h-1.1M215.5 188.75h-1.1M215.5 193.07h-1.1M215.5 196.61h-1.1M215.5 199.59h-1.1M215.5 202.18h-1.1M215.5 204.46h-1.1M215.5 206.50h-2M215.5 219.93h-1.1M215.5 227.78h-1.1M215.5 233.35h-1.1M215.5 237.67h-1.1M215.5 241.21h-1.1M215.5 244.19h-1.1M215.5 246.78h-1.1M215.5 249.06h-1.1M215.5 251.10h-2M215.5 264.53h-1.1" stroke="#333" stroke-width="0.7" fill="none"/>
<text x="258.50" y="279.80" font-size="6.36" text-anchor="middle" textLength="26.07" lengthAdjust="spacingAndGlyphs">NMB [%]</text>
<line x1="327.50" y1="161.9" x2="327.50" y2="264.8" stroke="#e2e2e2" stroke-width="1"/><line x1="344.50" y1="161.9" x2="344.50" y2="264.8" stroke="#e2e2e2" stroke-width="1"/><line x1="362.50" y1="161.9" x2="362.50" y2="264.8" stroke="#e2e2e2" stroke-width="1"/><line x1="379.50" y1="161.9" x2="379.50" y2="264.8" stroke="#e2e2e2" stroke-width="1"/><line x1="310.5" y1="206.50" x2="396.5" y2="206.50" stroke="#e2e2e2" stroke-width="1"/><line x1="310.5" y1="251.50" x2="396.5" y2="251.50" stroke="#e2e2e2" stroke-width="1"/>
<line x1="353.50" y1="161.9" x2="353.50" y2="264.8" stroke="#111" stroke-width="1"/>
<g clip-path="url(#cp13)">
<path d="M344.80 162.00 L347.80 172.90 L350.80 186.90 L350.80 194.80 L349.80 200.60 L346.30 205.00 L335.10 217.50 L326.30 226.90 L326.30 230.10 L328.20 236.30 L330.70 250.10 L331.10 265.00" stroke="#1f77b4" stroke-width="1.0" fill="none" stroke-linejoin="round"/>
<path d="M345.20 162.00 L348.20 172.90 L351.20 186.90 L351.20 194.80 L348.80 200.60 L345.70 206.30 L339.40 217.50 L331.90 226.90 L327.50 233.80 L324.40 242.60 L323.80 252.60 L325.00 260.10 L326.90 265.00" stroke="#1f77b4" stroke-width="1.0" fill="none" stroke-linejoin="round" stroke-dasharray="3.2 1.4"/>
<path d="M338.90 162.00 L341.90 171.00 L344.80 182.90 L345.40 194.80 L345.10 200.60 L344.50 206.30 L336.90 220.00 L328.80 229.40 L317.50 237.60 L310.00 247.60 L300.00 260.00" stroke="#ff7f0e" stroke-width="1.0" fill="none" stroke-linejoin="round"/>
<path d="M339.20 162.00 L342.20 171.00 L345.10 182.90 L345.80 194.80 L346.30 200.60 L345.10 207.50 L338.80 218.80 L330.00 228.80 L320.00 235.10 L311.30 241.40 L300.00 249.00" stroke="#ff7f0e" stroke-width="1.0" fill="none" stroke-linejoin="round" stroke-dasharray="3.2 1.4"/>
</g>
<rect x="310.5" y="161.9" width="86.0" height="102.9" fill="none" stroke="#333" stroke-width="0.8"/>
<text x="310.50" y="273.40" font-size="6.36" text-anchor="middle" textLength="12.66" lengthAdjust="spacingAndGlyphs">−50</text>
<text x="327.70" y="273.40" font-size="6.36" text-anchor="middle" textLength="12.66" lengthAdjust="spacingAndGlyphs">−30</text>
<text x="344.90" y="273.40" font-size="6.36" text-anchor="middle" textLength="12.66" lengthAdjust="spacingAndGlyphs">−10</text>
<text x="362.10" y="273.40" font-size="6.36" text-anchor="middle" textLength="7.63" lengthAdjust="spacingAndGlyphs">10</text>
<text x="379.30" y="273.40" font-size="6.36" text-anchor="middle" textLength="7.63" lengthAdjust="spacingAndGlyphs">30</text>
<path d="M310.50 264.8v2M327.70 264.8v2M344.90 264.8v2M362.10 264.8v2M379.30 264.8v2M310.5 161.90h-2M310.5 175.33h-1.1M310.5 183.18h-1.1M310.5 188.75h-1.1M310.5 193.07h-1.1M310.5 196.61h-1.1M310.5 199.59h-1.1M310.5 202.18h-1.1M310.5 204.46h-1.1M310.5 206.50h-2M310.5 219.93h-1.1M310.5 227.78h-1.1M310.5 233.35h-1.1M310.5 237.67h-1.1M310.5 241.21h-1.1M310.5 244.19h-1.1M310.5 246.78h-1.1M310.5 249.06h-1.1M310.5 251.10h-2M310.5 264.53h-1.1" stroke="#333" stroke-width="0.7" fill="none"/>
<text x="353.50" y="279.80" font-size="6.36" text-anchor="middle" textLength="26.07" lengthAdjust="spacingAndGlyphs">NMB [%]</text>
<line x1="422.50" y1="161.9" x2="422.50" y2="264.8" stroke="#e2e2e2" stroke-width="1"/><line x1="439.50" y1="161.9" x2="439.50" y2="264.8" stroke="#e2e2e2" stroke-width="1"/><line x1="457.50" y1="161.9" x2="457.50" y2="264.8" stroke="#e2e2e2" stroke-width="1"/><line x1="474.50" y1="161.9" x2="474.50" y2="264.8" stroke="#e2e2e2" stroke-width="1"/><line x1="405.5" y1="206.50" x2="491.5" y2="206.50" stroke="#e2e2e2" stroke-width="1"/><line x1="405.5" y1="251.50" x2="491.5" y2="251.50" stroke="#e2e2e2" stroke-width="1"/>
<line x1="448.50" y1="161.9" x2="448.50" y2="264.8" stroke="#111" stroke-width="1"/>
<g clip-path="url(#cp14)">
<path d="M441.80 162.00 L443.80 172.90 L445.80 186.90 L445.80 194.80 L443.80 201.30 L440.70 205.60 L430.10 218.80 L417.50 226.90 L416.90 236.30 L418.80 242.60 L422.50 251.40 L426.90 257.60 L430.70 265.00" stroke="#1f77b4" stroke-width="1.0" fill="none" stroke-linejoin="round"/>
<path d="M442.10 162.00 L444.10 172.90 L446.10 186.90 L446.10 194.80 L442.60 201.30 L440.10 208.80 L432.60 222.60 L423.80 231.30 L417.50 241.40 L413.10 250.80 L417.50 256.40 L424.40 264.50 L424.80 265.00" stroke="#1f77b4" stroke-width="1.0" fill="none" stroke-linejoin="round" stroke-dasharray="3.2 1.4"/>
<path d="M435.90 162.00 L437.80 171.00 L439.80 182.90 L440.40 198.80 L440.10 201.30 L438.80 206.30 L427.60 218.80 L416.30 227.60 L405.00 240.70 L395.00 252.00" stroke="#ff7f0e" stroke-width="1.0" fill="none" stroke-linejoin="round"/>
<path d="M436.10 162.00 L438.00 171.00 L440.00 182.90 L440.60 198.80 L440.80 203.00 L440.70 206.30 L435.10 218.80 L427.60 227.60 L417.50 233.80 L408.80 238.80 L405.00 241.40 L395.00 247.00" stroke="#ff7f0e" stroke-width="1.0" fill="none" stroke-linejoin="round" stroke-dasharray="3.2 1.4"/>
</g>
<rect x="405.5" y="161.9" width="86.0" height="102.9" fill="none" stroke="#333" stroke-width="0.8"/>
<text x="405.50" y="273.40" font-size="6.36" text-anchor="middle" textLength="12.66" lengthAdjust="spacingAndGlyphs">−50</text>
<text x="422.70" y="273.40" font-size="6.36" text-anchor="middle" textLength="12.66" lengthAdjust="spacingAndGlyphs">−30</text>
<text x="439.90" y="273.40" font-size="6.36" text-anchor="middle" textLength="12.66" lengthAdjust="spacingAndGlyphs">−10</text>
<text x="457.10" y="273.40" font-size="6.36" text-anchor="middle" textLength="7.63" lengthAdjust="spacingAndGlyphs">10</text>
<text x="474.30" y="273.40" font-size="6.36" text-anchor="middle" textLength="7.63" lengthAdjust="spacingAndGlyphs">30</text>
<path d="M405.50 264.8v2M422.70 264.8v2M439.90 264.8v2M457.10 264.8v2M474.30 264.8v2M405.5 161.90h-2M405.5 175.33h-1.1M405.5 183.18h-1.1M405.5 188.75h-1.1M405.5 193.07h-1.1M405.5 196.61h-1.1M405.5 199.59h-1.1M405.5 202.18h-1.1M405.5 204.46h-1.1M405.5 206.50h-2M405.5 219.93h-1.1M405.5 227.78h-1.1M405.5 233.35h-1.1M405.5 237.67h-1.1M405.5 241.21h-1.1M405.5 244.19h-1.1M405.5 246.78h-1.1M405.5 249.06h-1.1M405.5 251.10h-2M405.5 264.53h-1.1" stroke="#333" stroke-width="0.7" fill="none"/>
<text x="448.50" y="279.80" font-size="6.36" text-anchor="middle" textLength="26.07" lengthAdjust="spacingAndGlyphs">NMB [%]</text>
<line x1="42.50" y1="282.2" x2="42.50" y2="385.1" stroke="#e2e2e2" stroke-width="1"/><line x1="59.50" y1="282.2" x2="59.50" y2="385.1" stroke="#e2e2e2" stroke-width="1"/><line x1="77.50" y1="282.2" x2="77.50" y2="385.1" stroke="#e2e2e2" stroke-width="1"/><line x1="94.50" y1="282.2" x2="94.50" y2="385.1" stroke="#e2e2e2" stroke-width="1"/><line x1="25.5" y1="326.50" x2="111.5" y2="326.50" stroke="#e2e2e2" stroke-width="1"/><line x1="25.5" y1="371.50" x2="111.5" y2="371.50" stroke="#e2e2e2" stroke-width="1"/>
<g clip-path="url(#cp20)">
<path d="M36.50 282.50 L35.30 288.30 L33.50 295.00 L33.30 304.10 L33.50 313.20 L36.50 319.90 L42.00 324.10 L46.90 328.40 L50.50 332.00 L54.20 336.90 L57.80 340.20 L70.00 341.80 L79.00 343.60 L93.10 347.00 L99.20 348.30 L111.60 357.90 L102.70 363.60 L106.20 371.00 L95.70 377.60 L85.70 384.10 L85.30 385.00" stroke="#1f77b4" stroke-width="1.0" fill="none" stroke-linejoin="round"/>
<path d="M36.60 282.50 L35.40 288.30 L33.60 295.00 L33.40 304.10 L33.60 313.20 L36.60 319.90 L42.00 324.10 L47.70 330.00 L51.10 334.50 L54.50 340.20 L58.60 341.50 L79.00 349.00 L98.10 354.50 L107.60 358.50 L97.40 364.70 L97.40 369.40 L87.20 379.00 L85.70 384.10 L85.30 385.00" stroke="#1f77b4" stroke-width="1.0" fill="none" stroke-linejoin="round" stroke-dasharray="3.2 1.4"/>
<path d="M46.30 282.50 L43.80 288.30 L41.40 295.60 L40.80 304.10 L41.40 313.20 L45.00 318.70 L50.50 323.50 L56.60 329.60 L62.70 334.50 L68.10 340.20 L80.00 343.90 L93.10 347.90 L96.60 354.00 L101.80 365.30 L110.10 371.50" stroke="#ff7f0e" stroke-width="1.0" fill="none" stroke-linejoin="round"/>
<path d="M46.30 282.50 L43.80 288.30 L41.40 295.60 L40.80 304.10 L41.40 313.20 L45.00 318.70 L46.90 324.70 L49.90 329.60 L54.20 335.70 L59.00 340.50 L66.30 343.60 L77.70 347.70 L80.00 350.00 L95.70 357.50 L97.50 362.70 L102.70 368.00 L110.10 371.50" stroke="#ff7f0e" stroke-width="1.0" fill="none" stroke-linejoin="round" stroke-dasharray="3.2 1.4"/>
<text x="108.90" y="303.90" font-size="6.36" text-anchor="end" fill="#1f77b4" stroke="#1f77b4" textLength="46.90" lengthAdjust="spacingAndGlyphs" stroke-width="0.06">nACEFTS=1730</text>
<text x="108.90" y="314.20" font-size="6.36" text-anchor="end" fill="#ff7f0e" stroke="#ff7f0e" textLength="48.17" lengthAdjust="spacingAndGlyphs" stroke-width="0.06">nAMLS=157889</text>
</g>
<rect x="25.5" y="282.2" width="86.0" height="102.9" fill="none" stroke="#333" stroke-width="0.8"/>
<text x="25.50" y="393.70" font-size="6.36" text-anchor="middle" textLength="3.82" lengthAdjust="spacingAndGlyphs">0</text>
<text x="42.70" y="393.70" font-size="6.36" text-anchor="middle" textLength="7.63" lengthAdjust="spacingAndGlyphs">10</text>
<text x="59.90" y="393.70" font-size="6.36" text-anchor="middle" textLength="7.63" lengthAdjust="spacingAndGlyphs">20</text>
<text x="77.10" y="393.70" font-size="6.36" text-anchor="middle" textLength="7.63" lengthAdjust="spacingAndGlyphs">30</text>
<text x="94.30" y="393.70" font-size="6.36" text-anchor="middle" textLength="7.63" lengthAdjust="spacingAndGlyphs">40</text>
<text x="111.50" y="393.70" font-size="6.36" text-anchor="middle" textLength="7.63" lengthAdjust="spacingAndGlyphs">50</text>
<path d="M25.50 385.1v2M42.70 385.1v2M59.90 385.1v2M77.10 385.1v2M94.30 385.1v2M111.50 385.1v2M25.5 282.20h-2M25.5 295.63h-1.1M25.5 303.48h-1.1M25.5 309.05h-1.1M25.5 313.37h-1.1M25.5 316.91h-1.1M25.5 319.89h-1.1M25.5 322.48h-1.1M25.5 324.76h-1.1M25.5 326.80h-2M25.5 340.23h-1.1M25.5 348.08h-1.1M25.5 353.65h-1.1M25.5 357.97h-1.1M25.5 361.51h-1.1M25.5 364.49h-1.1M25.5 367.08h-1.1M25.5 369.36h-1.1M25.5 371.40h-2M25.5 384.83h-1.1" stroke="#333" stroke-width="0.7" fill="none"/>
<text x="68.50" y="400.10" font-size="6.36" text-anchor="middle" textLength="24.38" lengthAdjust="spacingAndGlyphs">STD [%]</text>
<text x="18.2" y="285.10" font-size="6.3" text-anchor="end" textLength="6.5" lengthAdjust="spacingAndGlyphs">10</text><text x="18.20" y="282.70" font-size="4.45" textLength="2.67" lengthAdjust="spacingAndGlyphs">0</text>
<text x="18.2" y="329.70" font-size="6.3" text-anchor="end" textLength="6.5" lengthAdjust="spacingAndGlyphs">10</text><text x="18.20" y="327.30" font-size="4.45" textLength="2.67" lengthAdjust="spacingAndGlyphs">1</text>
<text x="18.2" y="374.30" font-size="6.3" text-anchor="end" textLength="6.5" lengthAdjust="spacingAndGlyphs">10</text><text x="18.20" y="371.90" font-size="4.45" textLength="2.67" lengthAdjust="spacingAndGlyphs">2</text>
<text x="0.00" y="0.00" font-size="6.36" text-anchor="middle" textLength="43.04" lengthAdjust="spacingAndGlyphs" stroke="none" transform="translate(10.2 333.65) rotate(-90)">Pressure [hPa]</text>
<line x1="137.50" y1="282.2" x2="137.50" y2="385.1" stroke="#e2e2e2" stroke-width="1"/><line x1="154.50" y1="282.2" x2="154.50" y2="385.1" stroke="#e2e2e2" stroke-width="1"/><line x1="172.50" y1="282.2" x2="172.50" y2="385.1" stroke="#e2e2e2" stroke-width="1"/><line x1="189.50" y1="282.2" x2="189.50" y2="385.1" stroke="#e2e2e2" stroke-width="1"/><line x1="120.5" y1="326.50" x2="206.5" y2="326.50" stroke="#e2e2e2" stroke-width="1"/><line x1="120.5" y1="371.50" x2="206.5" y2="371.50" stroke="#e2e2e2" stroke-width="1"/>
<g clip-path="url(#cp21)">
<path d="M131.50 282.50 L129.60 292.90 L128.40 304.90 L128.40 319.00 L133.10 325.80 L139.80 330.50 L146.60 335.20 L153.30 339.90 L150.60 347.30 L151.30 356.80 L156.70 364.20 L165.40 366.20 L170.00 367.90 L185.20 370.90 L199.60 378.90 L197.60 385.00" stroke="#1f77b4" stroke-width="1.0" fill="none" stroke-linejoin="round"/>
<path d="M131.70 282.50 L129.80 292.90 L128.60 304.90 L128.40 320.40 L131.70 328.50 L137.10 339.30 L143.90 347.30 L152.00 358.10 L156.70 364.50 L170.00 368.20 L177.60 370.50 L182.20 372.00 L197.40 383.40 L198.00 385.00" stroke="#1f77b4" stroke-width="1.0" fill="none" stroke-linejoin="round" stroke-dasharray="3.2 1.4"/>
<path d="M140.90 282.50 L136.90 291.00 L135.50 300.90 L135.90 314.80 L139.80 325.80 L145.20 335.20 L152.00 343.30 L160.00 351.40 L166.80 358.10 L176.20 360.10 L189.00 363.70 L210.00 366.60" stroke="#ff7f0e" stroke-width="1.0" fill="none" stroke-linejoin="round"/>
<path d="M141.10 282.50 L137.10 291.00 L135.70 300.90 L136.10 314.80 L138.90 322.80 L141.80 333.90 L145.20 342.00 L152.00 348.70 L160.00 354.10 L165.40 357.50 L167.20 358.20 L176.20 360.10 L189.00 363.70 L210.00 366.60" stroke="#ff7f0e" stroke-width="1.0" fill="none" stroke-linejoin="round" stroke-dasharray="3.2 1.4"/>
<text x="203.90" y="303.90" font-size="6.36" text-anchor="end" fill="#1f77b4" stroke="#1f77b4" textLength="43.08" lengthAdjust="spacingAndGlyphs" stroke-width="0.06">nACEFTS=825</text>
<text x="203.90" y="314.20" font-size="6.36" text-anchor="end" fill="#ff7f0e" stroke="#ff7f0e" textLength="48.17" lengthAdjust="spacingAndGlyphs" stroke-width="0.06">nAMLS=162005</text>
</g>
<rect x="120.5" y="282.2" width="86.0" height="102.9" fill="none" stroke="#333" stroke-width="0.8"/>
<text x="120.50" y="393.70" font-size="6.36" text-anchor="middle" textLength="3.82" lengthAdjust="spacingAndGlyphs">0</text>
<text x="137.70" y="393.70" font-size="6.36" text-anchor="middle" textLength="7.63" lengthAdjust="spacingAndGlyphs">10</text>
<text x="154.90" y="393.70" font-size="6.36" text-anchor="middle" textLength="7.63" lengthAdjust="spacingAndGlyphs">20</text>
<text x="172.10" y="393.70" font-size="6.36" text-anchor="middle" textLength="7.63" lengthAdjust="spacingAndGlyphs">30</text>
<text x="189.30" y="393.70" font-size="6.36" text-anchor="middle" textLength="7.63" lengthAdjust="spacingAndGlyphs">40</text>
<text x="206.50" y="393.70" font-size="6.36" text-anchor="middle" textLength="7.63" lengthAdjust="spacingAndGlyphs">50</text>
<path d="M120.50 385.1v2M137.70 385.1v2M154.90 385.1v2M172.10 385.1v2M189.30 385.1v2M206.50 385.1v2M120.5 282.20h-2M120.5 295.63h-1.1M120.5 303.48h-1.1M120.5 309.05h-1.1M120.5 313.37h-1.1M120.5 316.91h-1.1M120.5 319.89h-1.1M120.5 322.48h-1.1M120.5 324.76h-1.1M120.5 326.80h-2M120.5 340.23h-1.1M120.5 348.08h-1.1M120.5 353.65h-1.1M120.5 357.97h-1.1M120.5 361.51h-1.1M120.5 364.49h-1.1M120.5 367.08h-1.1M120.5 369.36h-1.1M120.5 371.40h-2M120.5 384.83h-1.1" stroke="#333" stroke-width="0.7" fill="none"/>
<text x="163.50" y="400.10" font-size="6.36" text-anchor="middle" textLength="24.38" lengthAdjust="spacingAndGlyphs">STD [%]</text>
<line x1="232.50" y1="282.2" x2="232.50" y2="385.1" stroke="#e2e2e2" stroke-width="1"/><line x1="249.50" y1="282.2" x2="249.50" y2="385.1" stroke="#e2e2e2" stroke-width="1"/><line x1="267.50" y1="282.2" x2="267.50" y2="385.1" stroke="#e2e2e2" stroke-width="1"/><line x1="284.50" y1="282.2" x2="284.50" y2="385.1" stroke="#e2e2e2" stroke-width="1"/><line x1="215.5" y1="326.50" x2="301.5" y2="326.50" stroke="#e2e2e2" stroke-width="1"/><line x1="215.5" y1="371.50" x2="301.5" y2="371.50" stroke="#e2e2e2" stroke-width="1"/>
<g clip-path="url(#cp22)">
<path d="M228.60 282.40 L226.50 288.60 L224.60 295.20 L224.40 304.70 L224.80 313.20 L226.10 319.90 L227.30 325.80 L232.70 334.20 L237.30 340.40 L242.00 349.70 L247.80 358.10 L257.40 361.20 L266.60 364.30 L283.60 365.80 L302.00 367.00" stroke="#1f77b4" stroke-width="1.0" fill="none" stroke-linejoin="round"/>
<path d="M228.90 282.40 L226.80 288.60 L224.90 295.20 L224.70 304.70 L225.10 313.20 L226.40 319.90 L227.60 325.80 L233.00 334.20 L237.60 340.40 L242.30 349.70 L248.10 358.10 L257.70 361.20 L266.90 364.30 L283.90 365.80 L302.30 367.00" stroke="#1f77b4" stroke-width="1.0" fill="none" stroke-linejoin="round" stroke-dasharray="3.2 1.4"/>
<path d="M235.30 282.40 L233.20 287.60 L230.80 294.30 L230.50 304.70 L231.30 313.20 L234.10 318.00 L237.90 321.80 L240.40 325.80 L244.30 333.50 L247.30 340.40 L252.70 344.30 L258.90 348.10 L266.60 350.40 L275.80 353.50 L285.10 356.60 L291.30 357.80 L302.00 358.10" stroke="#ff7f0e" stroke-width="1.0" fill="none" stroke-linejoin="round"/>
<path d="M235.60 282.40 L233.50 287.60 L231.10 294.30 L230.80 304.70 L231.60 313.20 L234.40 318.00 L238.20 321.80 L240.70 325.80 L244.60 333.50 L247.60 340.40 L253.00 344.30 L259.20 348.10 L266.90 350.40 L276.10 353.50 L285.40 356.60 L291.60 357.80 L302.30 358.10" stroke="#ff7f0e" stroke-width="1.0" fill="none" stroke-linejoin="round" stroke-dasharray="3.2 1.4"/>
<text x="298.90" y="303.90" font-size="6.36" text-anchor="end" fill="#1f77b4" stroke="#1f77b4" textLength="43.08" lengthAdjust="spacingAndGlyphs" stroke-width="0.06">nACEFTS=692</text>
<text x="298.90" y="314.20" font-size="6.36" text-anchor="end" fill="#ff7f0e" stroke="#ff7f0e" textLength="48.17" lengthAdjust="spacingAndGlyphs" stroke-width="0.06">nAMLS=331895</text>
</g>
<rect x="215.5" y="282.2" width="86.0" height="102.9" fill="none" stroke="#333" stroke-width="0.8"/>
<text x="215.50" y="393.70" font-size="6.36" text-anchor="middle" textLength="3.82" lengthAdjust="spacingAndGlyphs">0</text>
<text x="232.70" y="393.70" font-size="6.36" text-anchor="middle" textLength="7.63" lengthAdjust="spacingAndGlyphs">10</text>
<text x="249.90" y="393.70" font-size="6.36" text-anchor="middle" textLength="7.63" lengthAdjust="spacingAndGlyphs">20</text>
<text x="267.10" y="393.70" font-size="6.36" text-anchor="middle" textLength="7.63" lengthAdjust="spacingAndGlyphs">30</text>
<text x="284.30" y="393.70" font-size="6.36" text-anchor="middle" textLength="7.63" lengthAdjust="spacingAndGlyphs">40</text>
<text x="301.50" y="393.70" font-size="6.36" text-anchor="middle" textLength="7.63" lengthAdjust="spacingAndGlyphs">50</text>
<path d="M215.50 385.1v2M232.70 385.1v2M249.90 385.1v2M267.10 385.1v2M284.30 385.1v2M301.50 385.1v2M215.5 282.20h-2M215.5 295.63h-1.1M215.5 303.48h-1.1M215.5 309.05h-1.1M215.5 313.37h-1.1M215.5 316.91h-1.1M215.5 319.89h-1.1M215.5 322.48h-1.1M215.5 324.76h-1.1M215.5 326.80h-2M215.5 340.23h-1.1M215.5 348.08h-1.1M215.5 353.65h-1.1M215.5 357.97h-1.1M215.5 361.51h-1.1M215.5 364.49h-1.1M215.5 367.08h-1.1M215.5 369.36h-1.1M215.5 371.40h-2M215.5 384.83h-1.1" stroke="#333" stroke-width="0.7" fill="none"/>
<text x="258.50" y="400.10" font-size="6.36" text-anchor="middle" textLength="24.38" lengthAdjust="spacingAndGlyphs">STD [%]</text>
<line x1="327.50" y1="282.2" x2="327.50" y2="385.1" stroke="#e2e2e2" stroke-width="1"/><line x1="344.50" y1="282.2" x2="344.50" y2="385.1" stroke="#e2e2e2" stroke-width="1"/><line x1="362.50" y1="282.2" x2="362.50" y2="385.1" stroke="#e2e2e2" stroke-width="1"/><line x1="379.50" y1="282.2" x2="379.50" y2="385.1" stroke="#e2e2e2" stroke-width="1"/><line x1="310.5" y1="326.50" x2="396.5" y2="326.50" stroke="#e2e2e2" stroke-width="1"/><line x1="310.5" y1="371.50" x2="396.5" y2="371.50" stroke="#e2e2e2" stroke-width="1"/>
<g clip-path="url(#cp23)">
<path d="M321.50 282.50 L319.60 291.00 L318.40 300.90 L318.00 312.90 L319.00 325.80 L325.90 331.80 L332.90 337.70 L335.50 342.70 L336.90 357.60 L343.80 364.60 L351.80 366.60 L361.80 370.60 L371.70 378.90 L383.70 380.50 L397.00 382.50" stroke="#1f77b4" stroke-width="1.0" fill="none" stroke-linejoin="round"/>
<path d="M321.70 282.50 L319.80 291.00 L318.60 300.90 L318.20 312.90 L319.00 326.80 L322.00 332.80 L326.90 344.70 L330.90 356.60 L341.90 363.60 L361.80 369.60 L377.70 374.60 L397.00 380.50" stroke="#1f77b4" stroke-width="1.0" fill="none" stroke-linejoin="round" stroke-dasharray="3.2 1.4"/>
<path d="M330.90 282.50 L326.90 291.00 L324.90 300.90 L324.90 310.00 L325.40 316.30 L328.60 324.60 L332.20 331.90 L336.90 340.30 L342.10 345.50 L347.40 350.70 L352.60 357.00 L356.80 358.50 L363.80 359.60 L375.70 361.60 L385.70 363.60 L397.00 365.00" stroke="#ff7f0e" stroke-width="1.0" fill="none" stroke-linejoin="round"/>
<path d="M331.10 282.50 L327.10 291.00 L325.10 300.90 L325.10 310.00 L325.60 316.30 L328.60 324.60 L330.70 329.80 L332.20 337.10 L335.90 343.40 L341.10 349.70 L346.30 353.80 L351.00 355.90 L356.80 358.50 L363.80 359.60 L375.70 361.60 L385.70 363.60 L397.00 365.00" stroke="#ff7f0e" stroke-width="1.0" fill="none" stroke-linejoin="round" stroke-dasharray="3.2 1.4"/>
<text x="393.50" y="303.90" font-size="6.36" text-anchor="end" fill="#1f77b4" stroke="#1f77b4" textLength="43.08" lengthAdjust="spacingAndGlyphs" stroke-width="0.06">nACEFTS=811</text>
<text x="393.50" y="314.20" font-size="6.36" text-anchor="end" fill="#ff7f0e" stroke="#ff7f0e" textLength="48.17" lengthAdjust="spacingAndGlyphs" stroke-width="0.06">nAMLS=161877</text>
</g>
<rect x="310.5" y="282.2" width="86.0" height="102.9" fill="none" stroke="#333" stroke-width="0.8"/>
<text x="310.50" y="393.70" font-size="6.36" text-anchor="middle" textLength="3.82" lengthAdjust="spacingAndGlyphs">0</text>
<text x="327.70" y="393.70" font-size="6.36" text-anchor="middle" textLength="7.63" lengthAdjust="spacingAndGlyphs">10</text>
<text x="344.90" y="393.70" font-size="6.36" text-anchor="middle" textLength="7.63" lengthAdjust="spacingAndGlyphs">20</text>
<text x="362.10" y="393.70" font-size="6.36" text-anchor="middle" textLength="7.63" lengthAdjust="spacingAndGlyphs">30</text>
<text x="379.30" y="393.70" font-size="6.36" text-anchor="middle" textLength="7.63" lengthAdjust="spacingAndGlyphs">40</text>
<text x="396.50" y="393.70" font-size="6.36" text-anchor="middle" textLength="7.63" lengthAdjust="spacingAndGlyphs">50</text>
<path d="M310.50 385.1v2M327.70 385.1v2M344.90 385.1v2M362.10 385.1v2M379.30 385.1v2M396.50 385.1v2M310.5 282.20h-2M310.5 295.63h-1.1M310.5 303.48h-1.1M310.5 309.05h-1.1M310.5 313.37h-1.1M310.5 316.91h-1.1M310.5 319.89h-1.1M310.5 322.48h-1.1M310.5 324.76h-1.1M310.5 326.80h-2M310.5 340.23h-1.1M310.5 348.08h-1.1M310.5 353.65h-1.1M310.5 357.97h-1.1M310.5 361.51h-1.1M310.5 364.49h-1.1M310.5 367.08h-1.1M310.5 369.36h-1.1M310.5 371.40h-2M310.5 384.83h-1.1" stroke="#333" stroke-width="0.7" fill="none"/>
<text x="353.50" y="400.10" font-size="6.36" text-anchor="middle" textLength="24.38" lengthAdjust="spacingAndGlyphs">STD [%]</text>
<line x1="422.50" y1="282.2" x2="422.50" y2="385.1" stroke="#e2e2e2" stroke-width="1"/><line x1="439.50" y1="282.2" x2="439.50" y2="385.1" stroke="#e2e2e2" stroke-width="1"/><line x1="457.50" y1="282.2" x2="457.50" y2="385.1" stroke="#e2e2e2" stroke-width="1"/><line x1="474.50" y1="282.2" x2="474.50" y2="385.1" stroke="#e2e2e2" stroke-width="1"/><line x1="405.5" y1="326.50" x2="491.5" y2="326.50" stroke="#e2e2e2" stroke-width="1"/><line x1="405.5" y1="371.50" x2="491.5" y2="371.50" stroke="#e2e2e2" stroke-width="1"/>
<g clip-path="url(#cp24)">
<path d="M416.50 282.50 L414.00 292.90 L412.60 304.90 L412.00 316.80 L413.40 326.80 L416.90 332.80 L422.90 340.70 L428.50 347.70 L428.90 363.60 L440.80 370.60 L446.80 378.60 L456.80 382.50 L464.70 386.00" stroke="#1f77b4" stroke-width="1.0" fill="none" stroke-linejoin="round"/>
<path d="M416.70 282.50 L414.20 292.90 L412.80 304.90 L412.20 316.80 L413.60 326.80 L416.00 332.80 L420.90 341.70 L424.90 350.70 L427.90 362.60 L440.80 371.60 L454.80 377.60 L466.70 383.50 L468.70 386.00" stroke="#1f77b4" stroke-width="1.0" fill="none" stroke-linejoin="round" stroke-dasharray="3.2 1.4"/>
<path d="M425.90 282.50 L421.90 291.00 L419.90 300.90 L419.30 312.90 L422.90 325.80 L430.90 332.80 L439.80 340.70 L446.80 348.70 L454.80 357.60 L464.70 360.60 L474.70 364.60 L492.00 368.00" stroke="#ff7f0e" stroke-width="1.0" fill="none" stroke-linejoin="round"/>
<path d="M426.10 282.50 L422.10 291.00 L420.10 300.90 L419.50 312.90 L422.90 325.80 L423.90 328.80 L426.90 338.70 L434.90 346.70 L444.80 354.70 L458.80 360.60 L468.70 363.00 L474.70 364.60 L492.00 368.00" stroke="#ff7f0e" stroke-width="1.0" fill="none" stroke-linejoin="round" stroke-dasharray="3.2 1.4"/>
<text x="488.50" y="303.90" font-size="6.36" text-anchor="end" fill="#1f77b4" stroke="#1f77b4" textLength="46.90" lengthAdjust="spacingAndGlyphs" stroke-width="0.06">nACEFTS=1825</text>
<text x="488.50" y="314.20" font-size="6.36" text-anchor="end" fill="#ff7f0e" stroke="#ff7f0e" textLength="48.17" lengthAdjust="spacingAndGlyphs" stroke-width="0.06">nAMLS=157979</text>
</g>
<rect x="405.5" y="282.2" width="86.0" height="102.9" fill="none" stroke="#333" stroke-width="0.8"/>
<text x="405.50" y="393.70" font-size="6.36" text-anchor="middle" textLength="3.82" lengthAdjust="spacingAndGlyphs">0</text>
<text x="422.70" y="393.70" font-size="6.36" text-anchor="middle" textLength="7.63" lengthAdjust="spacingAndGlyphs">10</text>
<text x="439.90" y="393.70" font-size="6.36" text-anchor="middle" textLength="7.63" lengthAdjust="spacingAndGlyphs">20</text>
<text x="457.10" y="393.70" font-size="6.36" text-anchor="middle" textLength="7.63" lengthAdjust="spacingAndGlyphs">30</text>
<text x="474.30" y="393.70" font-size="6.36" text-anchor="middle" textLength="7.63" lengthAdjust="spacingAndGlyphs">40</text>
<text x="491.50" y="393.70" font-size="6.36" text-anchor="middle" textLength="7.63" lengthAdjust="spacingAndGlyphs">50</text>
<path d="M405.50 385.1v2M422.70 385.1v2M439.90 385.1v2M457.10 385.1v2M474.30 385.1v2M491.50 385.1v2M405.5 282.20h-2M405.5 295.63h-1.1M405.5 303.48h-1.1M405.5 309.05h-1.1M405.5 313.37h-1.1M405.5 316.91h-1.1M405.5 319.89h-1.1M405.5 322.48h-1.1M405.5 324.76h-1.1M405.5 326.80h-2M405.5 340.23h-1.1M405.5 348.08h-1.1M405.5 353.65h-1.1M405.5 357.97h-1.1M405.5 361.51h-1.1M405.5 364.49h-1.1M405.5 367.08h-1.1M405.5 369.36h-1.1M405.5 371.40h-2M405.5 384.83h-1.1" stroke="#333" stroke-width="0.7" fill="none"/>
<text x="448.50" y="400.10" font-size="6.36" text-anchor="middle" textLength="24.38" lengthAdjust="spacingAndGlyphs">STD [%]</text>
<line x1="42.50" y1="402.5" x2="42.50" y2="505.4" stroke="#e2e2e2" stroke-width="1"/><line x1="59.50" y1="402.5" x2="59.50" y2="505.4" stroke="#e2e2e2" stroke-width="1"/><line x1="77.50" y1="402.5" x2="77.50" y2="505.4" stroke="#e2e2e2" stroke-width="1"/><line x1="94.50" y1="402.5" x2="94.50" y2="505.4" stroke="#e2e2e2" stroke-width="1"/><line x1="25.5" y1="447.50" x2="111.5" y2="447.50" stroke="#e2e2e2" stroke-width="1"/><line x1="25.5" y1="491.50" x2="111.5" y2="491.50" stroke="#e2e2e2" stroke-width="1"/>
<g clip-path="url(#cp30)">
<path d="M72.80 403.00 L81.30 409.70 L90.10 415.80 L90.10 421.30 L88.50 426.20 L86.30 430.60 L85.50 433.90 L86.30 439.40 L90.10 443.30 L93.40 446.60 L101.20 453.20 L108.20 459.70 L103.50 466.20 L97.60 475.60 L95.90 479.10 L95.30 483.80 L91.80 487.40 L87.10 491.50 L88.20 497.90 L91.80 501.50 L94.70 505.00 L95.00 506.00" stroke="#1f77b4" stroke-width="1.0" fill="none" stroke-linejoin="round"/>
<path d="M72.90 403.00 L81.40 409.70 L90.20 415.80 L90.20 421.30 L90.10 424.00 L86.80 432.80 L86.30 437.20 L86.50 439.40 L90.10 443.30 L93.40 446.60 L101.20 453.20 L106.60 457.70 L108.20 461.50 L108.20 467.40 L101.20 473.20 L97.60 479.10 L97.10 487.40 L96.50 494.40 L95.30 503.80 L95.00 506.00" stroke="#1f77b4" stroke-width="1.0" fill="none" stroke-linejoin="round" stroke-dasharray="3.2 1.4"/>
<path d="M48.90 403.00 L57.10 408.60 L65.40 415.80 L60.40 423.50 L61.50 427.30 L64.30 432.80 L67.60 440.00 L73.60 441.60 L83.50 443.80 L92.30 446.00 L94.10 447.40 L104.70 460.30 L97.60 467.40 L97.60 475.60 L96.50 482.60 L94.10 486.20 L91.20 492.30" stroke="#ff7f0e" stroke-width="1.0" fill="none" stroke-linejoin="round"/>
<path d="M49.10 403.00 L57.30 408.60 L65.60 415.80 L60.60 423.50 L63.20 427.90 L66.50 431.70 L68.70 437.20 L68.10 440.00 L73.60 441.60 L83.50 443.80 L92.30 446.00 L95.30 446.80 L105.30 457.90 L103.50 468.50 L98.80 476.80 L98.20 483.80 L95.30 488.50 L92.90 492.30" stroke="#ff7f0e" stroke-width="1.0" fill="none" stroke-linejoin="round" stroke-dasharray="3.2 1.4"/>
</g>
<rect x="25.5" y="402.5" width="86.0" height="102.9" fill="none" stroke="#333" stroke-width="0.8"/>
<text x="25.50" y="514.00" font-size="6.36" text-anchor="middle" textLength="3.82" lengthAdjust="spacingAndGlyphs">0</text>
<text x="42.70" y="514.00" font-size="6.36" text-anchor="middle" textLength="9.54" lengthAdjust="spacingAndGlyphs">0.2</text>
<text x="59.90" y="514.00" font-size="6.36" text-anchor="middle" textLength="9.54" lengthAdjust="spacingAndGlyphs">0.4</text>
<text x="77.10" y="514.00" font-size="6.36" text-anchor="middle" textLength="9.54" lengthAdjust="spacingAndGlyphs">0.6</text>
<text x="94.30" y="514.00" font-size="6.36" text-anchor="middle" textLength="9.54" lengthAdjust="spacingAndGlyphs">0.8</text>
<text x="111.50" y="514.00" font-size="6.36" text-anchor="middle" textLength="3.82" lengthAdjust="spacingAndGlyphs">1</text>
<path d="M25.50 505.4v2M42.70 505.4v2M59.90 505.4v2M77.10 505.4v2M94.30 505.4v2M111.50 505.4v2M25.5 402.50h-2M25.5 415.93h-1.1M25.5 423.78h-1.1M25.5 429.35h-1.1M25.5 433.67h-1.1M25.5 437.21h-1.1M25.5 440.19h-1.1M25.5 442.78h-1.1M25.5 445.06h-1.1M25.5 447.10h-2M25.5 460.53h-1.1M25.5 468.38h-1.1M25.5 473.95h-1.1M25.5 478.27h-1.1M25.5 481.81h-1.1M25.5 484.79h-1.1M25.5 487.38h-1.1M25.5 489.66h-1.1M25.5 491.70h-2M25.5 505.13h-1.1" stroke="#333" stroke-width="0.7" fill="none"/>
<text x="68.50" y="521.10" font-size="6.36" text-anchor="middle" textLength="17.92" lengthAdjust="spacingAndGlyphs">Correl</text>
<text x="18.2" y="405.40" font-size="6.3" text-anchor="end" textLength="6.5" lengthAdjust="spacingAndGlyphs">10</text><text x="18.20" y="403.00" font-size="4.45" textLength="2.67" lengthAdjust="spacingAndGlyphs">0</text>
<text x="18.2" y="450.00" font-size="6.3" text-anchor="end" textLength="6.5" lengthAdjust="spacingAndGlyphs">10</text><text x="18.20" y="447.60" font-size="4.45" textLength="2.67" lengthAdjust="spacingAndGlyphs">1</text>
<text x="18.2" y="494.60" font-size="6.3" text-anchor="end" textLength="6.5" lengthAdjust="spacingAndGlyphs">10</text><text x="18.20" y="492.20" font-size="4.45" textLength="2.67" lengthAdjust="spacingAndGlyphs">2</text>
<text x="0.00" y="0.00" font-size="6.36" text-anchor="middle" textLength="43.04" lengthAdjust="spacingAndGlyphs" stroke="none" transform="translate(10.2 453.95) rotate(-90)">Pressure [hPa]</text>
<line x1="137.50" y1="402.5" x2="137.50" y2="505.4" stroke="#e2e2e2" stroke-width="1"/><line x1="154.50" y1="402.5" x2="154.50" y2="505.4" stroke="#e2e2e2" stroke-width="1"/><line x1="172.50" y1="402.5" x2="172.50" y2="505.4" stroke="#e2e2e2" stroke-width="1"/><line x1="189.50" y1="402.5" x2="189.50" y2="505.4" stroke="#e2e2e2" stroke-width="1"/><line x1="120.5" y1="447.50" x2="206.5" y2="447.50" stroke="#e2e2e2" stroke-width="1"/><line x1="120.5" y1="491.50" x2="206.5" y2="491.50" stroke="#e2e2e2" stroke-width="1"/>
<g clip-path="url(#cp31)">
<path d="M154.00 403.00 L162.00 408.00 L173.00 415.50 L174.00 418.50 L174.00 423.50 L170.00 428.00 L164.50 433.50 L169.00 436.50 L174.00 441.00 L176.50 447.60 L180.30 454.00 L184.80 460.30 L190.50 464.80 L196.80 468.60 L198.10 484.50 L190.50 492.10 L186.70 499.10 L189.50 504.80 L189.80 506.00" stroke="#1f77b4" stroke-width="1.0" fill="none" stroke-linejoin="round"/>
<path d="M154.20 403.00 L162.20 408.00 L173.20 415.50 L174.40 418.50 L174.30 423.50 L171.00 428.00 L168.50 433.00 L169.50 436.50 L175.00 439.00 L179.00 441.50 L188.00 448.30 L199.40 461.00 L200.70 468.00 L198.80 481.90 L194.30 490.80 L189.90 503.50 L189.80 506.00" stroke="#1f77b4" stroke-width="1.0" fill="none" stroke-linejoin="round" stroke-dasharray="3.2 1.4"/>
<path d="M137.00 403.00 L143.00 409.00 L148.50 415.00 L143.00 419.50 L138.50 423.50 L140.00 428.00 L141.50 433.50 L150.00 437.50 L160.00 442.00 L168.90 447.60 L176.50 460.30 L175.90 468.00 L181.00 477.50 L181.00 483.80 L178.40 488.90 L176.50 492.30" stroke="#ff7f0e" stroke-width="1.0" fill="none" stroke-linejoin="round"/>
<path d="M137.20 403.00 L143.20 409.00 L148.70 415.00 L143.20 419.50 L138.70 423.50 L141.50 427.50 L142.00 430.50 L142.00 433.50 L150.20 437.50 L160.20 442.00 L168.90 447.60 L176.50 454.00 L185.40 461.00 L183.50 467.30 L182.20 473.00 L181.60 479.40 L181.00 483.80 L178.40 488.90 L176.70 492.30" stroke="#ff7f0e" stroke-width="1.0" fill="none" stroke-linejoin="round" stroke-dasharray="3.2 1.4"/>
</g>
<rect x="120.5" y="402.5" width="86.0" height="102.9" fill="none" stroke="#333" stroke-width="0.8"/>
<text x="120.50" y="514.00" font-size="6.36" text-anchor="middle" textLength="3.82" lengthAdjust="spacingAndGlyphs">0</text>
<text x="137.70" y="514.00" font-size="6.36" text-anchor="middle" textLength="9.54" lengthAdjust="spacingAndGlyphs">0.2</text>
<text x="154.90" y="514.00" font-size="6.36" text-anchor="middle" textLength="9.54" lengthAdjust="spacingAndGlyphs">0.4</text>
<text x="172.10" y="514.00" font-size="6.36" text-anchor="middle" textLength="9.54" lengthAdjust="spacingAndGlyphs">0.6</text>
<text x="189.30" y="514.00" font-size="6.36" text-anchor="middle" textLength="9.54" lengthAdjust="spacingAndGlyphs">0.8</text>
<text x="206.50" y="514.00" font-size="6.36" text-anchor="middle" textLength="3.82" lengthAdjust="spacingAndGlyphs">1</text>
<path d="M120.50 505.4v2M137.70 505.4v2M154.90 505.4v2M172.10 505.4v2M189.30 505.4v2M206.50 505.4v2M120.5 402.50h-2M120.5 415.93h-1.1M120.5 423.78h-1.1M120.5 429.35h-1.1M120.5 433.67h-1.1M120.5 437.21h-1.1M120.5 440.19h-1.1M120.5 442.78h-1.1M120.5 445.06h-1.1M120.5 447.10h-2M120.5 460.53h-1.1M120.5 468.38h-1.1M120.5 473.95h-1.1M120.5 478.27h-1.1M120.5 481.81h-1.1M120.5 484.79h-1.1M120.5 487.38h-1.1M120.5 489.66h-1.1M120.5 491.70h-2M120.5 505.13h-1.1" stroke="#333" stroke-width="0.7" fill="none"/>
<text x="163.50" y="521.10" font-size="6.36" text-anchor="middle" textLength="17.92" lengthAdjust="spacingAndGlyphs">Correl</text>
<line x1="232.50" y1="402.5" x2="232.50" y2="505.4" stroke="#e2e2e2" stroke-width="1"/><line x1="249.50" y1="402.5" x2="249.50" y2="505.4" stroke="#e2e2e2" stroke-width="1"/><line x1="267.50" y1="402.5" x2="267.50" y2="505.4" stroke="#e2e2e2" stroke-width="1"/><line x1="284.50" y1="402.5" x2="284.50" y2="505.4" stroke="#e2e2e2" stroke-width="1"/><line x1="215.5" y1="447.50" x2="301.5" y2="447.50" stroke="#e2e2e2" stroke-width="1"/><line x1="215.5" y1="491.50" x2="301.5" y2="491.50" stroke="#e2e2e2" stroke-width="1"/>
<g clip-path="url(#cp32)">
<path d="M222.50 403.00 L224.00 411.00 L225.50 416.20 L231.50 420.00 L240.50 425.20 L251.00 432.00 L263.00 439.50 L275.00 443.20 L284.00 446.20 L288.70 453.80 L293.60 459.70 L295.60 467.70 L294.60 477.70 L290.70 485.60 L283.70 493.60 L274.70 499.60 L254.80 502.50 L242.90 505.50 L241.00 506.00" stroke="#1f77b4" stroke-width="1.0" fill="none" stroke-linejoin="round"/>
<path d="M221.90 403.30 L223.40 411.30 L224.90 416.50 L230.90 420.30 L239.90 425.50 L250.40 432.30 L262.40 439.80 L274.40 443.50 L283.40 446.50 L288.10 454.10 L293.00 460.00 L295.00 468.00 L294.00 478.00 L290.10 485.90 L283.10 493.90 L274.10 499.90 L254.20 502.80 L242.30 505.80 L240.40 506.30" stroke="#1f77b4" stroke-width="1.0" fill="none" stroke-linejoin="round" stroke-dasharray="3.2 1.4"/>
<path d="M219.50 403.00 L219.80 415.50 L222.50 420.70 L226.20 424.50 L234.50 429.00 L242.00 433.50 L248.00 439.50 L255.50 442.50 L263.00 446.20 L270.50 450.70 L272.70 453.80 L281.70 459.70 L282.70 467.70 L281.70 477.70 L262.80 484.60 L244.90 487.60 L225.00 491.60" stroke="#ff7f0e" stroke-width="1.0" fill="none" stroke-linejoin="round"/>
<path d="M219.90 403.00 L220.20 415.50 L222.90 420.70 L226.60 424.50 L234.90 429.00 L242.40 433.50 L248.40 439.50 L255.90 442.50 L263.40 446.20 L270.90 450.70 L273.10 453.80 L282.10 459.70 L283.10 467.70 L282.10 477.70 L263.20 484.60 L245.30 487.60 L225.40 491.60" stroke="#ff7f0e" stroke-width="1.0" fill="none" stroke-linejoin="round" stroke-dasharray="3.2 1.4"/>
</g>
<rect x="215.5" y="402.5" width="86.0" height="102.9" fill="none" stroke="#333" stroke-width="0.8"/>
<text x="215.50" y="514.00" font-size="6.36" text-anchor="middle" textLength="3.82" lengthAdjust="spacingAndGlyphs">0</text>
<text x="232.70" y="514.00" font-size="6.36" text-anchor="middle" textLength="9.54" lengthAdjust="spacingAndGlyphs">0.2</text>
<text x="249.90" y="514.00" font-size="6.36" text-anchor="middle" textLength="9.54" lengthAdjust="spacingAndGlyphs">0.4</text>
<text x="267.10" y="514.00" font-size="6.36" text-anchor="middle" textLength="9.54" lengthAdjust="spacingAndGlyphs">0.6</text>
<text x="284.30" y="514.00" font-size="6.36" text-anchor="middle" textLength="9.54" lengthAdjust="spacingAndGlyphs">0.8</text>
<text x="301.50" y="514.00" font-size="6.36" text-anchor="middle" textLength="3.82" lengthAdjust="spacingAndGlyphs">1</text>
<path d="M215.50 505.4v2M232.70 505.4v2M249.90 505.4v2M267.10 505.4v2M284.30 505.4v2M301.50 505.4v2M215.5 402.50h-2M215.5 415.93h-1.1M215.5 423.78h-1.1M215.5 429.35h-1.1M215.5 433.67h-1.1M215.5 437.21h-1.1M215.5 440.19h-1.1M215.5 442.78h-1.1M215.5 445.06h-1.1M215.5 447.10h-2M215.5 460.53h-1.1M215.5 468.38h-1.1M215.5 473.95h-1.1M215.5 478.27h-1.1M215.5 481.81h-1.1M215.5 484.79h-1.1M215.5 487.38h-1.1M215.5 489.66h-1.1M215.5 491.70h-2M215.5 505.13h-1.1" stroke="#333" stroke-width="0.7" fill="none"/>
<text x="258.50" y="521.10" font-size="6.36" text-anchor="middle" textLength="17.92" lengthAdjust="spacingAndGlyphs">Correl</text>
<line x1="327.50" y1="402.5" x2="327.50" y2="505.4" stroke="#e2e2e2" stroke-width="1"/><line x1="344.50" y1="402.5" x2="344.50" y2="505.4" stroke="#e2e2e2" stroke-width="1"/><line x1="362.50" y1="402.5" x2="362.50" y2="505.4" stroke="#e2e2e2" stroke-width="1"/><line x1="379.50" y1="402.5" x2="379.50" y2="505.4" stroke="#e2e2e2" stroke-width="1"/><line x1="310.5" y1="447.50" x2="396.5" y2="447.50" stroke="#e2e2e2" stroke-width="1"/><line x1="310.5" y1="491.50" x2="396.5" y2="491.50" stroke="#e2e2e2" stroke-width="1"/>
<g clip-path="url(#cp33)">
<path d="M329.50 403.00 L338.00 409.00 L347.00 415.00 L352.00 423.00 L344.50 433.50 L355.00 436.50 L365.00 439.50 L366.50 440.00 L380.50 446.40 L362.70 460.30 L370.30 469.20 L376.70 477.50 L384.30 481.90 L388.80 489.60 L390.00 498.40 L388.80 505.40 L388.70 506.00" stroke="#1f77b4" stroke-width="1.0" fill="none" stroke-linejoin="round"/>
<path d="M331.00 403.00 L339.50 409.00 L350.00 415.00 L354.00 423.50 L348.00 431.00 L345.50 433.80 L356.00 436.80 L369.10 440.00 L381.10 447.00 L381.10 452.70 L380.50 466.70 L383.00 475.60 L388.10 483.20 L389.40 490.80 L389.40 499.70 L388.80 506.00" stroke="#1f77b4" stroke-width="1.0" fill="none" stroke-linejoin="round" stroke-dasharray="3.2 1.4"/>
<path d="M320.50 403.00 L327.00 410.00 L332.00 415.00 L327.00 419.00 L322.50 423.50 L325.00 429.00 L328.00 433.50 L341.00 439.50 L350.00 441.90 L364.60 447.00 L362.70 460.30 L362.70 469.20 L364.00 478.10 L367.20 482.60 L369.70 484.50 L368.40 492.30" stroke="#ff7f0e" stroke-width="1.0" fill="none" stroke-linejoin="round"/>
<path d="M321.20 403.00 L327.70 410.00 L333.00 415.50 L328.00 419.50 L323.50 424.00 L325.80 429.00 L328.60 433.50 L341.50 439.70 L350.50 442.10 L365.20 447.60 L372.20 459.70 L371.00 469.20 L366.50 478.10 L369.10 484.50 L368.50 492.30" stroke="#ff7f0e" stroke-width="1.0" fill="none" stroke-linejoin="round" stroke-dasharray="3.2 1.4"/>
</g>
<rect x="310.5" y="402.5" width="86.0" height="102.9" fill="none" stroke="#333" stroke-width="0.8"/>
<text x="310.50" y="514.00" font-size="6.36" text-anchor="middle" textLength="3.82" lengthAdjust="spacingAndGlyphs">0</text>
<text x="327.70" y="514.00" font-size="6.36" text-anchor="middle" textLength="9.54" lengthAdjust="spacingAndGlyphs">0.2</text>
<text x="344.90" y="514.00" font-size="6.36" text-anchor="middle" textLength="9.54" lengthAdjust="spacingAndGlyphs">0.4</text>
<text x="362.10" y="514.00" font-size="6.36" text-anchor="middle" textLength="9.54" lengthAdjust="spacingAndGlyphs">0.6</text>
<text x="379.30" y="514.00" font-size="6.36" text-anchor="middle" textLength="9.54" lengthAdjust="spacingAndGlyphs">0.8</text>
<text x="396.50" y="514.00" font-size="6.36" text-anchor="middle" textLength="3.82" lengthAdjust="spacingAndGlyphs">1</text>
<path d="M310.50 505.4v2M327.70 505.4v2M344.90 505.4v2M362.10 505.4v2M379.30 505.4v2M396.50 505.4v2M310.5 402.50h-2M310.5 415.93h-1.1M310.5 423.78h-1.1M310.5 429.35h-1.1M310.5 433.67h-1.1M310.5 437.21h-1.1M310.5 440.19h-1.1M310.5 442.78h-1.1M310.5 445.06h-1.1M310.5 447.10h-2M310.5 460.53h-1.1M310.5 468.38h-1.1M310.5 473.95h-1.1M310.5 478.27h-1.1M310.5 481.81h-1.1M310.5 484.79h-1.1M310.5 487.38h-1.1M310.5 489.66h-1.1M310.5 491.70h-2M310.5 505.13h-1.1" stroke="#333" stroke-width="0.7" fill="none"/>
<text x="353.50" y="521.10" font-size="6.36" text-anchor="middle" textLength="17.92" lengthAdjust="spacingAndGlyphs">Correl</text>
<line x1="422.50" y1="402.5" x2="422.50" y2="505.4" stroke="#e2e2e2" stroke-width="1"/><line x1="439.50" y1="402.5" x2="439.50" y2="505.4" stroke="#e2e2e2" stroke-width="1"/><line x1="457.50" y1="402.5" x2="457.50" y2="505.4" stroke="#e2e2e2" stroke-width="1"/><line x1="474.50" y1="402.5" x2="474.50" y2="505.4" stroke="#e2e2e2" stroke-width="1"/><line x1="405.5" y1="447.50" x2="491.5" y2="447.50" stroke="#e2e2e2" stroke-width="1"/><line x1="405.5" y1="491.50" x2="491.5" y2="491.50" stroke="#e2e2e2" stroke-width="1"/>
<g clip-path="url(#cp34)">
<path d="M434.90 403.00 L446.80 410.00 L457.20 415.90 L464.70 423.90 L472.70 431.90 L478.70 439.80 L481.60 446.80 L480.70 453.80 L480.30 460.70 L483.60 470.70 L486.60 477.70 L483.60 484.60 L474.70 491.60 L480.70 495.60 L483.60 499.60 L484.60 505.50 L484.60 506.00" stroke="#1f77b4" stroke-width="1.0" fill="none" stroke-linejoin="round"/>
<path d="M435.50 403.00 L447.30 410.00 L457.70 415.90 L465.00 423.90 L473.00 431.90 L479.00 439.80 L482.00 446.80 L481.20 453.80 L481.00 460.70 L484.20 470.70 L487.20 477.70 L484.50 484.60 L477.00 491.00 L479.70 492.60 L483.60 499.60 L484.80 506.00" stroke="#1f77b4" stroke-width="1.0" fill="none" stroke-linejoin="round" stroke-dasharray="3.2 1.4"/>
<path d="M424.90 403.00 L429.90 409.00 L434.50 415.90 L430.90 422.90 L439.80 427.90 L448.80 432.90 L452.80 438.80 L456.80 446.80 L458.80 453.80 L461.70 460.70 L470.70 467.70 L472.70 477.70 L458.80 484.60 L446.80 491.60" stroke="#ff7f0e" stroke-width="1.0" fill="none" stroke-linejoin="round"/>
<path d="M425.10 403.00 L430.10 409.00 L434.70 415.90 L431.10 422.90 L440.00 427.90 L449.00 432.90 L453.50 440.00 L455.80 446.80 L462.70 451.80 L473.70 459.70 L477.70 467.70 L475.70 478.60 L460.70 485.60 L447.50 491.60" stroke="#ff7f0e" stroke-width="1.0" fill="none" stroke-linejoin="round" stroke-dasharray="3.2 1.4"/>
</g>
<rect x="405.5" y="402.5" width="86.0" height="102.9" fill="none" stroke="#333" stroke-width="0.8"/>
<text x="405.50" y="514.00" font-size="6.36" text-anchor="middle" textLength="3.82" lengthAdjust="spacingAndGlyphs">0</text>
<text x="422.70" y="514.00" font-size="6.36" text-anchor="middle" textLength="9.54" lengthAdjust="spacingAndGlyphs">0.2</text>
<text x="439.90" y="514.00" font-size="6.36" text-anchor="middle" textLength="9.54" lengthAdjust="spacingAndGlyphs">0.4</text>
<text x="457.10" y="514.00" font-size="6.36" text-anchor="middle" textLength="9.54" lengthAdjust="spacingAndGlyphs">0.6</text>
<text x="474.30" y="514.00" font-size="6.36" text-anchor="middle" textLength="9.54" lengthAdjust="spacingAndGlyphs">0.8</text>
<text x="491.50" y="514.00" font-size="6.36" text-anchor="middle" textLength="3.82" lengthAdjust="spacingAndGlyphs">1</text>
<path d="M405.50 505.4v2M422.70 505.4v2M439.90 505.4v2M457.10 505.4v2M474.30 505.4v2M491.50 505.4v2M405.5 402.50h-2M405.5 415.93h-1.1M405.5 423.78h-1.1M405.5 429.35h-1.1M405.5 433.67h-1.1M405.5 437.21h-1.1M405.5 440.19h-1.1M405.5 442.78h-1.1M405.5 445.06h-1.1M405.5 447.10h-2M405.5 460.53h-1.1M405.5 468.38h-1.1M405.5 473.95h-1.1M405.5 478.27h-1.1M405.5 481.81h-1.1M405.5 484.79h-1.1M405.5 487.38h-1.1M405.5 489.66h-1.1M405.5 491.70h-2M405.5 505.13h-1.1" stroke="#333" stroke-width="0.7" fill="none"/>
<text x="448.50" y="521.10" font-size="6.36" text-anchor="middle" textLength="17.92" lengthAdjust="spacingAndGlyphs">Correl</text></svg>
</body></html>
